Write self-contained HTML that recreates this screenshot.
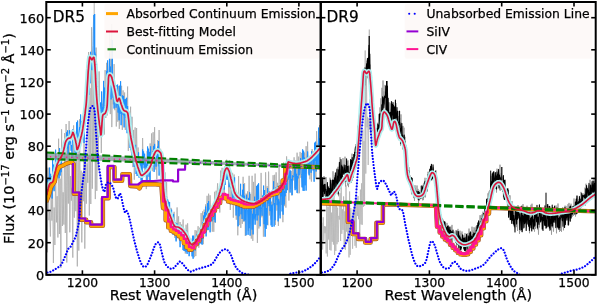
<!DOCTYPE html>
<html><head><meta charset="utf-8"><style>
html,body{margin:0;padding:0;background:#fff;}
svg{display:block;}
text{font-family:"DejaVu Sans","Liberation Sans",sans-serif;fill:#000;font-variant-ligatures:none;stroke:#000;stroke-width:0.25px;}
</style></head><body>
<svg width="598" height="305" viewBox="0 0 598 305">
<rect width="598" height="305" fill="#fff"/>
<defs><clipPath id="cl"><rect x="46.3" y="2.0" width="274.3" height="272.8"/></clipPath><clipPath id="cr"><rect x="320.9" y="2.0" width="274.80000000000007" height="272.8"/></clipPath></defs><g clip-path="url(#cl)"><polyline points="46.6,170.5 47.4,252.3 48.1,167.7 48.9,220.2 49.6,211.9 50.4,236.5 51.1,192.0 51.9,220.6 52.6,189.7 53.4,263.0 54.1,207.5 54.9,245.0 55.6,162.9 56.4,222.4 57.1,196.2 57.9,237.5 58.6,138.7 59.4,234.0 60.1,178.7 60.9,267.8 61.6,129.3 62.4,226.0 63.1,192.3 63.9,224.6 64.6,133.1 65.3,233.0 66.1,124.0 66.8,262.5 67.6,143.4 68.3,203.6 69.1,121.1 69.8,232.3 70.6,176.0 71.3,200.7 72.1,187.7 72.8,257.6 73.6,125.4 74.3,217.7 75.1,155.9 75.8,211.2 76.6,136.5 77.3,266.4 78.1,149.1 78.8,250.6 79.6,119.2 80.3,210.6 81.1,170.7 81.8,242.4 82.6,172.7 83.3,201.2 84.1,119.9 84.8,248.6 85.6,154.2 86.3,203.7 87.1,163.3 87.8,182.9 88.6,52.0 89.3,215.5 90.1,88.1 90.8,204.0 91.6,27.2 92.3,188.7 93.1,58.5 93.8,159.2 94.6,61.5 95.3,199.1 96.1,47.6 96.8,190.9 97.6,99.6 98.3,170.3 99.1,71.4 99.8,122.5 100.6,104.3 101.3,152.9 102.1,103.6 102.8,118.0 103.6,85.9 104.3,134.6 105.1,70.1 105.8,118.0 106.6,62.8 107.3,115.4 108.1,73.4 108.8,101.5 109.6,32.4 110.3,114.1 111.1,39.2 111.8,127.1 112.6,84.0 113.3,104.4 114.1,64.1 114.8,110.2 115.6,91.3 116.3,126.5 117.1,91.0 117.8,121.7 118.6,86.0 119.3,128.9 120.1,87.5 120.8,110.1 121.6,85.8 122.3,129.9 123.1,90.4 123.8,115.7 124.6,92.5 125.3,130.0 126.1,98.4 126.8,121.3 127.6,86.5 128.3,150.9 129.1,123.2 129.8,131.3 130.6,106.7 131.3,152.5 132.1,116.8 132.8,167.1 133.6,129.9 134.3,179.7 135.1,127.4 135.8,168.7 136.6,128.0 137.3,168.0 138.1,147.5 138.8,161.4 139.6,158.2 140.3,172.5 141.1,160.3 141.8,182.9 142.6,138.0 143.3,164.1 144.1,156.0 144.8,174.2 145.6,158.3 146.3,189.1 147.1,151.2 147.8,165.9 148.6,152.1 149.3,180.8 150.1,143.4 150.8,163.9 151.6,133.4 152.3,171.2 153.1,132.2 153.8,166.5 154.6,127.1 155.3,169.5 156.1,149.9 156.8,179.3 157.6,140.1 158.3,166.4 159.1,130.0 159.8,164.1 160.6,148.8 161.3,183.0 162.1,169.1 162.8,186.3 163.6,177.6 164.3,203.9 165.1,172.4 165.8,213.7 166.6,182.1 167.3,214.1 168.1,200.5 168.8,219.6 169.6,208.2 170.3,224.6 171.1,207.9 171.8,229.0 172.6,215.7 173.3,227.1 174.1,211.8 174.8,237.9 175.6,222.1 176.3,239.9 177.1,207.4 177.8,232.6 178.6,216.3 179.3,240.2 180.1,222.0 180.8,233.2 181.6,224.5 182.3,236.5 183.1,219.5 183.8,238.1 184.6,231.5 185.3,253.6 186.1,224.7 186.8,244.1 187.6,223.3 188.3,241.3 189.1,240.4 189.8,248.3 190.6,241.0 191.3,249.6 192.1,238.5 192.8,245.1 193.6,237.0 194.3,257.2 195.1,230.1 195.8,256.1 196.6,230.6 197.3,244.1 198.1,226.2 198.8,247.8 199.6,227.7 200.3,237.5 201.1,213.1 201.8,227.6 202.6,211.4 203.3,244.2 204.1,209.6 204.8,222.0 205.6,204.4 206.3,220.8 207.1,195.8 207.8,230.4 208.6,193.7 209.3,221.8 210.1,195.3 210.8,216.6 211.6,207.0 212.3,231.7 213.1,205.6 213.8,231.8 214.6,191.8 215.3,222.9 216.1,190.7 216.8,199.2 217.6,183.3 218.3,201.1 219.1,192.3 219.8,212.5 220.6,170.6 221.3,194.2 222.1,167.8 222.8,201.1 223.6,173.8 224.3,193.1 225.1,165.9 225.8,177.1 226.6,159.7 227.3,180.0 228.1,163.9 228.8,199.2 229.6,160.3 230.3,210.0 231.1,183.4 231.8,200.8 232.6,172.9 233.3,217.7 234.1,174.5 234.8,200.4 235.6,199.3 236.3,219.7 237.1,198.8 237.8,235.3 238.6,176.1 239.3,225.1 240.1,194.8 240.8,227.9 241.6,194.9 242.3,223.8 243.1,176.8 243.8,221.5 244.6,183.1 245.3,236.0 246.1,193.6 246.8,209.9 247.6,191.3 248.3,231.1 249.1,175.8 249.8,224.2 250.6,193.9 251.3,238.6 252.1,175.8 252.8,240.9 253.6,181.9 254.3,220.3 255.1,173.6 255.8,216.5 256.6,198.8 257.4,242.9 258.1,205.2 258.9,228.5 259.6,203.0 260.4,219.8 261.1,172.9 261.9,217.3 262.6,198.3 263.4,236.7 264.1,193.6 264.9,227.7 265.6,172.3 266.4,213.1 267.1,186.2 267.9,225.3 268.6,171.6 269.4,215.5 270.1,193.7 270.9,219.7 271.6,201.7 272.4,206.1 273.1,175.2 273.9,205.3 274.6,174.8 275.4,224.9 276.1,172.3 276.9,210.6 277.6,182.8 278.4,225.9 279.1,166.6 279.9,215.3 280.6,187.2 281.4,204.8 282.1,179.1 282.9,222.2 283.6,162.5 284.4,206.1 285.1,184.4 285.9,207.6 286.6,156.4 287.4,189.9 288.1,161.7 288.9,200.6 289.6,174.9 290.4,189.2 291.1,171.0 291.9,195.5 292.6,162.6 293.4,180.4 294.1,157.3 294.9,188.3 295.6,160.6 296.4,185.8 297.1,152.7 297.9,193.4 298.6,156.6 299.4,193.2 300.1,151.9 300.9,177.8 301.6,152.9 302.4,187.4 303.1,164.8 303.9,170.7 304.6,152.5 305.4,174.0 306.1,146.2 306.9,166.2 307.6,141.7 308.4,173.6 309.1,159.2 309.9,179.3 310.6,156.5 311.4,181.6 312.1,149.1 312.9,166.5 313.6,151.5 314.4,163.6 315.1,153.0 315.9,178.8 316.6,131.2 317.4,155.2 318.1,143.6 318.9,159.9 319.6,125.0 320.4,174.0" fill="none" stroke="#ababab" stroke-width="0.8" stroke-linejoin="round" /><polyline points="46.6,179.0 47.1,191.4 47.6,178.6 48.1,200.3 48.6,188.9 49.1,182.4 49.6,167.6 50.1,190.0 50.6,173.8 51.1,183.9 51.6,176.3 52.1,198.5 52.6,158.3 53.1,189.5 53.6,164.6 54.1,191.2 54.6,172.0 55.1,171.4 55.6,149.7 56.1,168.9 56.6,158.2 57.1,167.3 57.6,167.9 58.1,174.7 58.6,156.9 59.1,178.3 59.6,148.1 60.1,175.6 60.6,157.9 61.1,172.2 61.6,157.2 62.1,159.9 62.6,150.0 63.1,155.3 63.6,151.8 64.1,155.5 64.6,151.1 65.1,150.7 65.6,145.8 66.1,148.3 66.6,132.3 67.1,148.4 67.6,130.4 68.1,154.2 68.6,139.6 69.1,144.7 69.6,130.3 70.1,143.4 70.6,141.5 71.1,150.7 71.6,145.1 72.1,158.0 72.6,129.4 73.1,141.1 73.6,142.9 74.1,142.3 74.6,143.6 75.1,152.8 75.6,140.5 76.1,157.1 76.6,122.3 77.1,139.0 77.6,120.6 78.1,137.9 78.6,134.5 79.1,133.0 79.6,127.2 80.1,143.8 80.6,114.5 81.1,134.6 81.6,121.1 82.1,134.1 82.6,120.6 83.1,127.4 83.6,129.6 84.1,143.0 84.6,111.5 85.1,123.2 85.6,108.2 86.1,109.3 86.6,80.5 87.1,111.0 87.6,78.1 88.1,93.8 88.6,57.4 89.1,94.9 89.6,61.3 90.1,83.3 90.6,51.8 91.1,69.5 91.6,58.7 92.1,70.2 92.6,59.9 93.1,45.6 93.6,15.1 94.1,63.9 94.6,51.7 95.1,53.4 95.6,54.0 96.1,71.3 96.6,63.7 97.1,94.0 97.6,81.2 98.1,122.7 98.6,103.0 99.1,133.8 99.6,109.8 100.1,136.0 100.6,102.5 101.1,125.5 101.6,91.5 102.1,110.6 102.6,107.2 103.1,118.2 103.6,80.9 104.1,119.7 104.6,87.6 105.1,98.1 105.6,91.1 106.1,100.5 106.6,70.9 107.1,87.1 107.6,60.4 108.1,81.3 108.6,85.4 109.1,92.7 109.6,53.3 110.1,96.7 110.6,66.6 111.1,99.4 111.6,60.1 112.1,89.1 112.6,82.7 113.1,97.8 113.6,82.5 114.1,108.5 114.6,86.5 115.1,85.4 115.6,88.9 116.1,107.7 116.6,85.0 117.1,105.3 117.6,84.6 118.1,112.6 118.6,100.5 119.1,120.3 119.6,85.7 120.1,113.8 120.6,81.2 121.1,125.2 121.6,106.8 122.1,112.5 122.6,95.4 123.1,114.8 123.6,96.1 124.1,127.4 124.6,99.3 125.1,116.1 125.6,99.2 126.1,117.9 126.6,97.8 127.1,133.2 127.6,106.0 128.1,119.6 128.6,115.8 129.1,133.3 129.6,114.4 130.1,148.0 130.6,116.5 131.1,150.3 131.6,142.2 132.1,155.6 132.6,135.6 133.1,147.1 133.6,143.7 134.1,166.9 134.6,150.2 135.1,160.6 135.6,144.9 136.1,174.0 136.6,153.8 137.1,176.0 137.6,160.3 138.1,166.0 138.6,152.4 139.1,177.7 139.6,160.5 140.1,165.1 140.6,162.1 141.1,180.7 141.6,162.7 142.1,179.9 142.6,149.4 143.1,164.8 143.6,151.4 144.1,168.3 144.6,153.7 145.1,167.2 145.6,160.9 146.1,175.6 146.6,163.7 147.1,181.4 147.6,146.5 148.1,165.9 148.6,148.7 149.1,176.8 149.6,151.9 150.1,180.3 150.6,146.4 151.1,166.8 151.6,163.1 152.1,157.3 152.6,151.1 153.1,164.8 153.6,145.9 154.1,171.9 154.6,143.9 155.1,163.6 155.6,151.4 156.1,166.6 156.6,152.6 157.1,158.8 157.6,146.6 158.1,159.7 158.6,141.1 159.1,175.6 159.6,151.2 160.1,160.3 160.6,159.0 161.1,164.6 161.6,167.8 162.1,181.3 162.6,166.0 163.1,185.1 163.6,181.7 164.1,197.2 164.6,184.5 165.1,208.3 165.6,204.2 166.1,211.6 166.6,196.6 167.1,214.9 167.6,199.0 168.1,209.8 168.6,201.7 169.1,212.8 169.6,202.1 170.1,225.3 170.6,212.1 171.1,225.1 171.6,209.6 172.1,221.8 172.6,223.0 173.1,234.7 173.6,213.9 174.1,227.7 174.6,220.0 175.1,233.0 175.6,228.0 176.1,241.4 176.6,223.5 177.1,230.2 177.6,223.8 178.1,230.0 178.6,227.7 179.1,233.7 179.6,228.6 180.1,247.2 180.6,227.8 181.1,234.0 181.6,238.6 182.1,236.3 182.6,239.8 183.1,250.1 183.6,235.6 184.1,251.0 184.6,243.1 185.1,251.1 185.6,238.8 186.1,252.2 186.6,230.7 187.1,253.9 187.6,234.7 188.1,246.8 188.6,244.1 189.1,256.2 189.6,250.0 190.1,246.5 190.6,240.9 191.1,251.5 191.6,246.7 192.1,256.4 192.6,235.7 193.1,258.7 193.6,235.7 194.1,246.6 194.6,240.7 195.1,250.6 195.6,242.3 196.1,245.2 196.6,234.7 197.1,243.4 197.6,234.2 198.1,240.6 198.6,237.5 199.1,244.5 199.6,236.4 200.1,241.1 200.6,231.8 201.1,243.9 201.6,230.1 202.1,244.7 202.6,222.1 203.1,238.6 203.6,215.5 204.1,229.2 204.6,212.0 205.1,228.5 205.6,206.6 206.1,236.4 206.6,212.9 207.1,230.0 207.6,203.2 208.1,230.0 208.6,201.0 209.1,213.2 209.6,208.7 210.1,232.3 210.6,207.7 211.1,219.3 211.6,212.0 212.1,221.3 212.6,214.3 213.1,210.4 213.6,204.3 214.1,219.6 214.6,204.8 215.1,222.2 215.6,200.2 216.1,201.4 216.6,197.5 217.1,205.6 217.6,201.9 218.1,200.9 218.6,192.0 219.1,194.4 219.6,185.5 220.1,194.3 220.6,179.2 221.1,190.4 221.6,182.5 222.1,187.6 222.6,178.7 223.1,178.8 223.6,171.9 224.1,189.6 224.6,170.2 225.1,185.0 225.6,166.2 226.1,179.2 226.6,164.1 227.1,179.9 227.6,172.9 228.1,178.0 228.6,166.7 229.1,187.2 229.6,182.1 230.1,182.9 230.6,183.8 231.1,188.4 231.6,185.4 232.1,191.8 232.6,198.4 233.1,197.9 233.6,188.7 234.1,196.2 234.6,177.4 235.1,202.9 235.6,203.6 236.1,215.5 236.6,205.3 237.1,204.8 237.6,196.3 238.1,226.3 238.6,202.0 239.1,216.2 239.6,204.1 240.1,206.6 240.6,183.8 241.1,214.3 241.6,198.2 242.1,219.0 242.6,189.8 243.1,207.3 243.6,184.1 244.1,221.3 244.6,195.7 245.1,220.0 245.6,209.5 246.1,235.3 246.6,194.8 247.1,209.2 247.6,210.9 248.1,234.8 248.6,197.9 249.1,228.2 249.6,192.3 250.1,235.6 250.6,202.1 251.1,204.6 251.6,210.6 252.1,229.6 252.6,213.8 253.1,234.4 253.6,208.4 254.1,218.6 254.6,196.7 255.1,224.7 255.6,214.2 256.1,215.1 256.6,185.9 257.1,220.5 257.6,184.7 258.1,215.4 258.6,183.3 259.1,209.2 259.6,199.7 260.1,226.3 260.6,202.2 261.1,206.5 261.6,209.3 262.1,215.7 262.6,195.6 263.1,206.7 263.6,185.6 264.1,224.2 264.6,190.0 265.1,236.7 265.6,202.1 266.1,228.9 266.6,208.0 267.1,224.9 267.6,188.1 268.1,203.4 268.6,193.8 269.1,206.2 269.6,191.0 270.1,211.1 270.6,196.7 271.1,225.4 271.6,204.8 272.1,227.0 272.6,205.1 273.1,203.5 273.6,181.3 274.1,226.5 274.6,203.0 275.1,220.2 275.6,187.7 276.1,199.9 276.6,192.0 277.1,205.2 277.6,186.2 278.1,221.4 278.6,198.9 279.1,200.8 279.6,201.3 280.1,218.4 280.6,185.1 281.1,196.4 281.6,180.4 282.1,211.4 282.6,185.6 283.1,214.7 283.6,170.3 284.1,204.5 284.6,191.0 285.1,196.2 285.6,162.9 286.1,193.0 286.6,183.2 287.1,190.2 287.6,163.7 288.1,179.7 288.6,169.8 289.1,177.7 289.6,168.4 290.1,192.6 290.6,170.5 291.1,180.7 291.6,179.2 292.1,195.1 292.6,175.4 293.1,176.9 293.6,176.9 294.1,175.3 294.6,167.5 295.1,190.2 295.6,165.2 296.1,189.4 296.6,173.8 297.1,192.9 297.6,176.2 298.1,178.4 298.6,163.4 299.1,175.2 299.6,163.2 300.1,169.6 300.6,158.2 301.1,173.4 301.6,175.6 302.1,187.3 302.6,149.4 303.1,190.8 303.6,150.7 304.1,190.9 304.6,157.6 305.1,185.3 305.6,159.9 306.1,190.6 306.6,159.5 307.1,165.0 307.6,151.5 308.1,165.5 308.6,159.4 309.1,175.3 309.6,158.4 310.1,161.2 310.6,157.0 311.1,172.8 311.6,151.3 312.1,157.3 312.6,155.8 313.1,170.5 313.6,155.0 314.1,181.7 314.6,142.7 315.1,160.9 315.6,141.7 316.1,171.5 316.6,152.3 317.1,167.2 317.6,150.3 318.1,165.7 318.6,127.6 319.1,167.2 319.6,138.4 320.1,164.2" fill="none" stroke="#1e90ff" stroke-width="1.0" stroke-linejoin="round" /><polyline points="94.2,60.0 94.2,0.0" fill="none" stroke="#b4b4b4" stroke-width="1.0" stroke-linejoin="round" /><polyline points="94.6,60.0 94.6,14.0" fill="none" stroke="#1e90ff" stroke-width="1.4" stroke-linejoin="round" /><polyline points="111.8,80.0 111.8,24.0" fill="none" stroke="#b4b4b4" stroke-width="1.0" stroke-linejoin="round" /><polyline points="112.3,80.0 112.3,40.0" fill="none" stroke="#1e90ff" stroke-width="1.4" stroke-linejoin="round" /><polyline points="46.8,195.0 46.9,194.4 47.1,193.6 47.2,192.6 47.4,191.5 47.7,190.4 47.9,189.4 48.2,188.4 48.5,187.3 48.8,186.2 49.1,185.2 49.5,184.3 49.9,183.5 50.4,183.0 50.9,182.8 51.4,182.6 51.9,182.5 52.5,182.1 52.9,181.5 53.3,180.5 53.6,179.3 53.9,177.9 54.2,176.5 54.5,175.0 54.8,173.6 55.1,172.2 55.5,170.9 55.8,169.5 56.1,168.1 56.5,166.8 56.8,165.7 57.1,164.7 57.4,163.8 57.7,163.1 58.1,162.3 58.4,161.6 58.8,160.8 59.2,160.0 59.7,159.2 60.2,158.4 60.8,157.6 61.3,156.8 61.7,155.9 62.1,155.0 62.4,154.1 62.8,153.2 63.1,152.2 63.4,151.1 63.7,150.0 64.0,148.7 64.4,147.3 64.7,145.7 65.0,144.3 65.3,142.9 65.7,141.8 66.1,140.9 66.5,140.2 66.9,139.7 67.3,139.2 67.7,138.8 68.1,138.5 68.5,138.3 69.0,138.1 69.4,138.1 69.8,138.1 70.2,137.9 70.6,137.7 70.9,137.3 71.2,136.7 71.5,136.1 71.8,135.5 72.0,134.9 72.2,134.4 72.4,133.9 72.5,133.4 72.6,132.9 72.7,132.6 72.8,132.4 73.0,132.5 73.2,132.9 73.5,133.7 73.8,134.6 74.1,135.6 74.4,136.7 74.7,137.7 75.0,138.7 75.3,139.8 75.6,141.0 75.8,142.2 76.1,143.3 76.3,144.3 76.5,145.3 76.6,146.5 76.7,147.5 76.8,148.5 76.9,149.2 77.1,149.5 77.3,149.4 77.6,149.1 77.9,148.4 78.2,147.6 78.5,146.8 78.8,145.9 79.1,145.0 79.3,143.9 79.6,142.8 79.9,141.6 80.1,140.4 80.4,139.3 80.7,138.2 80.9,137.2 81.2,136.2 81.5,135.2 81.7,134.1 82.0,132.8 82.3,131.4 82.6,129.8 82.9,128.2 83.1,126.5 83.4,124.8 83.7,123.0 84.0,121.2 84.3,119.3 84.5,117.4 84.8,115.4 85.1,113.4 85.3,111.5 85.5,109.7 85.7,108.2 85.9,106.6 86.1,104.8 86.3,102.7 86.5,100.0 86.7,96.5 87.0,92.3 87.2,87.8 87.5,83.2 87.8,78.8 88.0,75.0 88.2,71.6 88.5,68.5 88.7,65.5 89.0,62.9 89.2,60.7 89.4,59.0 89.6,57.8 89.7,57.2 89.8,57.0 89.9,57.0 90.0,57.2 90.2,57.3 90.4,57.5 90.7,58.0 91.0,58.6 91.3,59.2 91.6,59.6 91.9,59.8 92.2,59.6 92.5,59.1 92.8,58.5 93.0,57.9 93.3,57.5 93.5,57.3 93.7,57.3 93.9,57.5 94.0,57.7 94.1,58.2 94.3,59.0 94.4,60.0 94.5,61.3 94.7,62.9 94.8,64.7 95.0,66.8 95.1,69.3 95.3,72.0 95.5,75.2 95.6,78.9 95.8,82.9 96.0,87.0 96.3,91.1 96.5,95.0 96.8,98.8 97.1,102.6 97.5,106.4 97.8,110.1 98.2,113.4 98.5,116.4 98.8,119.0 99.1,121.2 99.3,123.1 99.5,124.9 99.8,126.5 100.0,128.0 100.2,129.7 100.4,131.4 100.6,133.1 100.7,134.3 100.9,134.9 101.1,134.5 101.3,132.8 101.5,129.9 101.8,126.3 102.0,122.6 102.3,119.3 102.5,117.0 102.7,115.7 103.0,114.9 103.2,114.6 103.5,114.5 103.7,114.4 104.0,114.2 104.2,113.9 104.5,113.8 104.8,113.6 105.0,113.5 105.2,113.2 105.5,112.7 105.8,112.0 106.0,111.3 106.3,110.4 106.6,109.4 106.8,108.2 107.0,106.8 107.2,105.2 107.3,103.2 107.4,101.2 107.5,99.0 107.6,96.9 107.7,95.0 107.8,93.2 107.9,91.5 108.0,89.9 108.0,88.2 108.1,86.6 108.2,85.0 108.3,83.3 108.4,81.4 108.4,79.6 108.5,77.9 108.7,76.5 108.9,75.5 109.2,74.9 109.6,74.7 110.0,74.8 110.4,75.1 110.8,75.6 111.2,76.2 111.6,77.0 111.9,78.1 112.3,79.4 112.6,80.8 113.0,82.2 113.3,83.6 113.6,85.0 114.0,86.4 114.3,87.9 114.7,89.4 115.0,90.9 115.3,92.4 115.6,94.0 115.9,95.8 116.2,97.6 116.5,99.2 116.8,100.5 117.1,101.3 117.4,101.4 117.8,100.9 118.1,100.0 118.5,99.1 118.9,98.4 119.2,98.3 119.5,98.8 119.9,99.6 120.2,100.7 120.5,101.9 120.8,103.1 121.2,104.2 121.6,105.2 122.0,106.3 122.3,107.4 122.7,108.5 123.2,109.4 123.6,110.1 124.1,110.6 124.6,110.9 125.1,111.0 125.6,111.2 126.1,111.3 126.5,111.6 126.8,111.9 127.1,112.1 127.3,112.4 127.6,112.8 127.8,113.5 128.0,114.6 128.2,116.2 128.5,118.4 128.8,120.7 129.0,123.2 129.2,125.7 129.5,127.8 129.7,129.6 129.9,131.3 130.2,132.9 130.4,134.4 130.7,136.1 131.0,138.0 131.4,140.1 131.9,142.4 132.4,144.8 132.9,147.2 133.4,149.6 133.9,151.8 134.4,153.9 134.9,156.0 135.3,158.0 135.8,160.0 136.3,161.8 136.8,163.6 137.3,165.3 137.8,167.0 138.4,168.6 138.9,170.1 139.4,171.4 139.8,172.5 140.2,173.4 140.5,174.1 140.8,174.6 141.0,175.0 141.3,175.3 141.7,175.4 142.1,175.4 142.6,175.2 143.1,174.8 143.7,174.4 144.2,173.9 144.7,173.5 145.2,173.1 145.7,172.7 146.2,172.2 146.7,171.7 147.2,171.1 147.7,170.5 148.2,169.9 148.7,169.2 149.1,168.5 149.6,167.7 150.1,166.7 150.6,165.6 151.1,164.2 151.6,162.5 152.1,160.6 152.6,158.8 153.1,157.1 153.6,155.7 154.1,154.5 154.6,153.5 155.0,152.6 155.5,151.8 156.0,151.2 156.5,150.8 157.0,150.6 157.5,150.6 158.1,150.7 158.6,151.0 159.1,151.4 159.5,151.8 159.9,152.2 160.2,152.5 160.6,153.0 160.9,153.6 161.1,154.6 161.4,156.0 161.6,158.0 161.8,160.4 162.0,163.1 162.2,166.1 162.3,169.1 162.5,172.0 162.7,174.9 162.8,178.0 162.9,181.2 163.1,184.3 163.3,187.3 163.5,190.0 163.8,192.5 164.1,194.9 164.4,197.2 164.8,199.3 165.1,201.2 165.5,203.0 165.9,204.5 166.3,205.8 166.7,206.9 167.1,207.9 167.6,208.9 168.0,210.0 168.4,211.1 168.8,212.2 169.2,213.2 169.6,214.3 170.0,215.4 170.5,216.7 171.1,218.2 171.7,219.9 172.4,221.6 173.0,223.3 173.7,224.8 174.4,225.9 175.1,226.6 175.7,226.9 176.4,227.0 177.1,227.0 177.7,227.0 178.4,227.2 179.1,227.5 179.7,227.9 180.4,228.3 181.0,228.8 181.7,229.3 182.3,229.9 182.9,230.6 183.6,231.3 184.2,232.2 184.9,233.1 185.5,234.0 186.2,235.1 186.9,236.3 187.6,237.8 188.3,239.3 189.0,240.8 189.6,242.0 190.2,243.0 190.7,243.7 191.1,244.1 191.5,244.4 191.9,244.5 192.3,244.5 192.8,244.3 193.4,244.0 194.0,243.6 194.6,243.1 195.2,242.4 196.0,241.5 196.7,240.4 197.5,239.0 198.4,237.4 199.3,235.6 200.2,233.6 201.1,231.7 202.0,229.9 202.9,228.2 203.7,226.4 204.6,224.7 205.5,222.9 206.3,221.2 207.2,219.4 208.1,217.7 209.0,215.9 209.8,214.2 210.7,212.4 211.6,210.7 212.5,208.9 213.4,207.1 214.3,205.4 215.2,203.6 216.1,201.9 216.9,200.1 217.7,198.4 218.4,196.6 219.0,194.8 219.5,193.0 220.1,191.3 220.5,189.6 221.0,188.0 221.4,186.5 221.8,185.2 222.1,183.8 222.4,182.6 222.7,181.3 223.0,180.0 223.3,178.6 223.5,177.2 223.7,175.8 224.0,174.4 224.2,173.1 224.5,172.0 224.8,171.0 225.2,170.1 225.6,169.3 226.0,168.7 226.4,168.2 226.8,168.0 227.2,168.1 227.6,168.4 228.0,169.0 228.3,169.6 228.7,170.3 229.0,171.0 229.2,171.6 229.4,172.2 229.6,172.9 229.7,173.6 229.9,174.6 230.2,175.7 230.6,177.1 231.0,178.9 231.5,180.8 232.0,182.7 232.4,184.5 232.9,186.2 233.3,187.7 233.7,189.1 234.0,190.5 234.4,191.8 234.9,193.0 235.5,194.1 236.2,195.2 237.0,196.2 237.9,197.1 238.9,197.9 239.8,198.7 240.7,199.4 241.6,200.0 242.5,200.5 243.3,201.0 244.2,201.3 245.1,201.7 246.0,202.0 246.9,202.3 247.7,202.6 248.6,202.8 249.5,203.0 250.3,203.2 251.2,203.3 252.1,203.4 253.0,203.5 253.8,203.5 254.7,203.5 255.6,203.5 256.5,203.3 257.4,203.0 258.2,202.7 259.1,202.3 260.0,201.8 260.8,201.2 261.7,200.7 262.6,200.1 263.5,199.5 264.4,198.8 265.2,198.1 266.1,197.4 267.0,196.7 267.9,196.0 268.7,195.3 269.6,194.7 270.5,194.0 271.3,193.4 272.2,192.8 273.1,192.3 274.0,191.9 274.9,191.5 275.8,191.1 276.7,190.7 277.5,190.2 278.2,189.6 278.9,189.0 279.6,188.4 280.2,187.7 280.8,187.0 281.4,186.2 281.9,185.5 282.4,184.8 282.8,184.0 283.3,183.2 283.7,182.2 284.1,181.0 284.6,179.5 285.0,177.8 285.5,175.9 285.9,174.0 286.3,172.2 286.7,170.5 287.0,168.9 287.2,167.4 287.4,165.9 287.6,164.6 287.8,163.4 288.0,162.6 288.2,162.1 288.4,161.9 288.6,161.9 288.8,162.0 289.0,162.2 289.3,162.3 289.7,162.4 290.0,162.5 290.5,162.6 291.0,162.7 291.5,162.9 292.0,163.0 292.6,163.1 293.2,163.2 293.9,163.3 294.6,163.4 295.3,163.5 296.0,163.5 296.7,163.5 297.4,163.5 298.1,163.4 298.7,163.4 299.4,163.3 300.0,163.2 300.6,163.1 301.1,163.0 301.6,162.8 302.0,162.6 302.5,162.5 303.0,162.3 303.5,162.1 304.1,162.0 304.6,161.8 305.2,161.6 305.7,161.4 306.2,161.2 306.7,161.0 307.2,160.7 307.6,160.4 308.1,160.1 308.6,159.8 309.0,159.5 309.4,159.2 309.8,158.9 310.2,158.5 310.6,158.2 311.0,157.8 311.5,157.3 312.1,156.8 312.7,156.2 313.4,155.5 314.0,154.8 314.7,154.1 315.4,153.4 316.1,152.6 316.8,151.8 317.6,151.0 318.3,150.1 318.9,149.4 319.4,148.8 319.8,148.4 320.1,148.0 320.2,147.8 320.4,147.6 320.5,147.4 320.6,147.3" fill="none" stroke="#aeeeee" stroke-width="5.2" stroke-linejoin="round" /><polyline points="46.3,202.0 47.5,199.0 48.9,195.3 50.9,187.4 52.9,184.4 54.8,181.5 55.8,175.6 57.8,169.7 59.7,166.7 62.7,165.7 65.7,163.8 68.6,162.8 71.6,161.8 73.8,164.2 73.8,193.7 80.0,193.7 80.0,219.7 86.2,219.7 86.2,222.2 91.1,222.2 91.1,225.8 102.9,225.8 102.9,198.2 108.6,198.2 108.6,167.1 114.5,167.1 114.5,180.8 122.1,180.8 122.4,174.2 129.8,174.2 130.2,186.0 137.5,186.5 139.5,188.5 141.5,184.5 145.7,184.3 155.5,184.3 161.2,184.8 161.5,187.2 162.6,203.0 163.0,208.2 165.6,208.2 165.6,220.2 168.2,220.2 168.2,227.4 170.8,227.4 170.8,230.8 173.4,230.8 173.4,232.2 176.0,232.2 176.0,233.9 178.6,233.9 178.6,236.2 181.2,236.2 181.2,239.1 183.8,239.1 183.8,243.3 186.4,243.3 186.4,247.4 189.0,247.4 189.0,249.7 191.6,249.7 191.6,247.8 194.2,247.8 194.2,244.2 196.8,244.2 196.8,240.8 199.4,240.8 199.4,236.4 202.0,236.4 202.0,231.0 204.6,231.0 204.6,224.9 207.2,224.9 207.2,219.8 209.8,219.8 209.8,215.1 212.4,215.1 212.4,210.8 215.0,210.8 215.0,206.9 217.6,206.9 217.6,203.0 220.2,203.0 220.2,197.9 222.8,197.9 222.8,196.5 225.4,196.5 225.4,198.6 228.0,198.6 228.0,201.5 230.6,201.5 230.6,202.2 233.2,202.2 233.2,202.8 235.8,202.8 235.8,203.5 238.4,203.5 238.4,204.2 241.0,204.2 241.0,205.5 243.6,205.5 243.6,206.6 246.2,206.6 246.2,206.6 248.8,206.6 248.8,206.6 251.4,206.6 251.4,206.5 254.0,206.5 254.0,205.2 256.6,205.2 256.6,203.8 259.2,203.8 259.2,202.1 261.8,202.1 261.8,200.3 264.4,200.3 264.4,198.6 267.0,198.6 267.0,196.6 269.6,196.6 269.6,194.8 272.2,194.8 272.2,194.1 274.8,194.1 274.8,193.4 277.4,193.4 277.4,190.8 280.0,190.8 280.0,187.5 282.6,187.5 282.6,180.4 285.2,180.4 285.2,166.0 287.0,166.0 320.6,167.3" fill="none" stroke="#a0522d" stroke-width="4.4" stroke-linejoin="round" /><polyline points="46.3,202.0 47.5,199.0 48.9,195.3 50.9,187.4 52.9,184.4 54.8,181.5 55.8,175.6 57.8,169.7 59.7,166.7 62.7,165.7 65.7,163.8 68.6,162.8 71.6,161.8 73.8,164.2 73.8,193.7 80.0,193.7 80.0,219.7 86.2,219.7 86.2,222.2 91.1,222.2 91.1,225.8 102.9,225.8 102.9,198.2 108.6,198.2 108.6,167.1 114.5,167.1 114.5,180.8 122.1,180.8 122.4,174.2 129.8,174.2 130.2,186.0 137.5,186.5 139.5,188.5 141.5,184.5 145.7,184.3 155.5,184.3 161.2,184.8 161.5,187.2 162.6,203.0 163.0,208.2 165.6,208.2 165.6,220.2 168.2,220.2 168.2,227.4 170.8,227.4 170.8,230.8 173.4,230.8 173.4,232.2 176.0,232.2 176.0,233.9 178.6,233.9 178.6,236.2 181.2,236.2 181.2,239.1 183.8,239.1 183.8,243.3 186.4,243.3 186.4,247.4 189.0,247.4 189.0,249.7 191.6,249.7 191.6,247.8 194.2,247.8 194.2,244.2 196.8,244.2 196.8,240.8 199.4,240.8 199.4,236.4 202.0,236.4 202.0,231.0 204.6,231.0 204.6,224.9 207.2,224.9 207.2,219.8 209.8,219.8 209.8,215.1 212.4,215.1 212.4,210.8 215.0,210.8 215.0,206.9 217.6,206.9 217.6,203.0 220.2,203.0 220.2,197.9 222.8,197.9 222.8,196.5 225.4,196.5 225.4,198.6 228.0,198.6 228.0,201.5 230.6,201.5 230.6,202.2 233.2,202.2 233.2,202.8 235.8,202.8 235.8,203.5 238.4,203.5 238.4,204.2 241.0,204.2 241.0,205.5 243.6,205.5 243.6,206.6 246.2,206.6 246.2,206.6 248.8,206.6 248.8,206.6 251.4,206.6 251.4,206.5 254.0,206.5 254.0,205.2 256.6,205.2 256.6,203.8 259.2,203.8 259.2,202.1 261.8,202.1 261.8,200.3 264.4,200.3 264.4,198.6 267.0,198.6 267.0,196.6 269.6,196.6 269.6,194.8 272.2,194.8 272.2,194.1 274.8,194.1 274.8,193.4 277.4,193.4 277.4,190.8 280.0,190.8 280.0,187.5 282.6,187.5 282.6,180.4 285.2,180.4 285.2,166.0 287.0,166.0 320.6,167.3" fill="none" stroke="#ffa500" stroke-width="3.2" stroke-linejoin="round" /><polyline points="73.0,163.0 73.0,192.5 79.2,192.5 79.2,218.5 85.4,218.5 85.4,221.0 90.3,221.0 90.3,224.6 102.1,224.6 102.1,197.0 107.8,197.0 107.8,165.9 113.7,165.9 113.7,179.6 121.3,179.6 121.6,175.7 129.0,175.7 129.5,184.5 138.0,184.5 142.7,181.0 153.6,181.0 162.4,180.4 172.9,180.4 173.0,181.5 178.1,181.5 178.1,169.7 185.0,169.7 185.3,162.3" fill="none" stroke="#9400d3" stroke-width="2.2" stroke-linejoin="round" /><polygon points="46.3,152.5 320.6,166.4 320.6,168.2 46.3,159" fill="#7f9696" fill-opacity="0.75"/><line x1="46.3" y1="152.5" x2="320.6" y2="166.4" stroke="#008000" stroke-width="2.1" stroke-dasharray="8 3.2"/><line x1="46.3" y1="159" x2="320.6" y2="168.2" stroke="#008000" stroke-width="2.1" stroke-dasharray="8 3.2"/><line x1="46.3" y1="156.5" x2="162" y2="161.0" stroke="#ff1493" stroke-width="1.5" stroke-linecap="round" stroke-dasharray="0.01 5.3" stroke-dashoffset="1"/><line x1="185.3" y1="162.3" x2="320.6" y2="167.3" stroke="#9400d3" stroke-width="1.5" stroke-linecap="round" stroke-dasharray="0.01 5.3" stroke-dashoffset="1"/><polyline points="162.8,161.6 163.0,201.6 165.6,201.6 165.6,210.2 168.2,210.2 168.2,221.6 170.8,221.6 170.8,227.1 173.4,227.1 173.4,229.4 176.0,229.4 176.0,230.9 178.6,230.9 178.6,232.7 181.2,232.7 181.2,235.3 183.8,235.3 183.8,238.9 186.4,238.9 186.4,243.1 189.0,243.1 189.0,246.9 191.6,246.9 191.6,248.1 194.2,248.1 194.2,244.2 196.8,244.2 196.8,240.8 199.4,240.8 199.4,236.9 202.0,236.9 202.0,232.5 204.6,232.5 204.6,226.4 207.2,226.4 207.2,220.7 209.8,220.7 209.8,215.6 212.4,215.6 212.4,211.2 215.0,211.2 215.0,207.1 217.6,207.1 217.6,203.2 220.2,203.2 220.2,198.9 222.8,198.9 222.8,194.0 225.4,194.0 225.4,194.9 228.0,194.9 228.0,198.2 230.6,198.2 230.6,199.8 233.2,199.8 233.2,200.5 235.8,200.5 235.8,201.1 238.4,201.1 238.4,201.7 241.0,201.7 241.0,202.8 243.6,202.8 243.6,204.1 246.2,204.1 246.2,204.6 248.8,204.6 248.8,204.6 251.4,204.6 251.4,204.6 254.0,204.6 254.0,203.9 256.6,203.9 256.6,202.6 259.2,202.6 259.2,201.1 261.8,201.1 261.8,199.3 264.4,199.3 264.4,197.6 267.0,197.6 267.0,195.7 269.6,195.7 269.6,193.8 272.2,193.8 272.2,192.5 274.8,192.5 274.8,191.8 277.4,191.8 277.4,190.3 280.0,190.3 280.0,187.7 282.6,187.7 282.6,183.9 285.2,183.9 285.2,173.9 287.0,173.9 288.0,164.0" fill="none" stroke="#ff1493" stroke-width="2.4" stroke-linejoin="round" /><polyline points="46.8,195.0 46.9,194.4 47.1,193.6 47.2,192.6 47.4,191.5 47.7,190.4 47.9,189.4 48.2,188.4 48.5,187.3 48.8,186.2 49.1,185.2 49.5,184.3 49.9,183.5 50.4,183.0 50.9,182.8 51.4,182.6 51.9,182.5 52.5,182.1 52.9,181.5 53.3,180.5 53.6,179.3 53.9,177.9 54.2,176.5 54.5,175.0 54.8,173.6 55.1,172.2 55.5,170.9 55.8,169.5 56.1,168.1 56.5,166.8 56.8,165.7 57.1,164.7 57.4,163.8 57.7,163.1 58.1,162.3 58.4,161.6 58.8,160.8 59.2,160.0 59.7,159.2 60.2,158.4 60.8,157.6 61.3,156.8 61.7,155.9 62.1,155.0 62.4,154.1 62.8,153.2 63.1,152.2 63.4,151.1 63.7,150.0 64.0,148.7 64.4,147.3 64.7,145.7 65.0,144.3 65.3,142.9 65.7,141.8 66.1,140.9 66.5,140.2 66.9,139.7 67.3,139.2 67.7,138.8 68.1,138.5 68.5,138.3 69.0,138.1 69.4,138.1 69.8,138.1 70.2,137.9 70.6,137.7 70.9,137.3 71.2,136.7 71.5,136.1 71.8,135.5 72.0,134.9 72.2,134.4 72.4,133.9 72.5,133.4 72.6,132.9 72.7,132.6 72.8,132.4 73.0,132.5 73.2,132.9 73.5,133.7 73.8,134.6 74.1,135.6 74.4,136.7 74.7,137.7 75.0,138.7 75.3,139.8 75.6,141.0 75.8,142.2 76.1,143.3 76.3,144.3 76.5,145.3 76.6,146.5 76.7,147.5 76.8,148.5 76.9,149.2 77.1,149.5 77.3,149.4 77.6,149.1 77.9,148.4 78.2,147.6 78.5,146.8 78.8,145.9 79.1,145.0 79.3,143.9 79.6,142.8 79.9,141.6 80.1,140.4 80.4,139.3 80.7,138.2 80.9,137.2 81.2,136.2 81.5,135.2 81.7,134.1 82.0,132.8 82.3,131.4 82.6,129.8 82.9,128.2 83.1,126.5 83.4,124.8 83.7,123.0 84.0,121.2 84.3,119.3 84.5,117.4 84.8,115.4 85.1,113.4 85.3,111.5 85.5,109.7 85.7,108.2 85.9,106.6 86.1,104.8 86.3,102.7 86.5,100.0 86.7,96.5 87.0,92.3 87.2,87.8 87.5,83.2 87.8,78.8 88.0,75.0 88.2,71.6 88.5,68.5 88.7,65.5 89.0,62.9 89.2,60.7 89.4,59.0 89.6,57.8 89.7,57.2 89.8,57.0 89.9,57.0 90.0,57.2 90.2,57.3 90.4,57.5 90.7,58.0 91.0,58.6 91.3,59.2 91.6,59.6 91.9,59.8 92.2,59.6 92.5,59.1 92.8,58.5 93.0,57.9 93.3,57.5 93.5,57.3 93.7,57.3 93.9,57.5 94.0,57.7 94.1,58.2 94.3,59.0 94.4,60.0 94.5,61.3 94.7,62.9 94.8,64.7 95.0,66.8 95.1,69.3 95.3,72.0 95.5,75.2 95.6,78.9 95.8,82.9 96.0,87.0 96.3,91.1 96.5,95.0 96.8,98.8 97.1,102.6 97.5,106.4 97.8,110.1 98.2,113.4 98.5,116.4 98.8,119.0 99.1,121.2 99.3,123.1 99.5,124.9 99.8,126.5 100.0,128.0 100.2,129.7 100.4,131.4 100.6,133.1 100.7,134.3 100.9,134.9 101.1,134.5 101.3,132.8 101.5,129.9 101.8,126.3 102.0,122.6 102.3,119.3 102.5,117.0 102.7,115.7 103.0,114.9 103.2,114.6 103.5,114.5 103.7,114.4 104.0,114.2 104.2,113.9 104.5,113.8 104.8,113.6 105.0,113.5 105.2,113.2 105.5,112.7 105.8,112.0 106.0,111.3 106.3,110.4 106.6,109.4 106.8,108.2 107.0,106.8 107.2,105.2 107.3,103.2 107.4,101.2 107.5,99.0 107.6,96.9 107.7,95.0 107.8,93.2 107.9,91.5 108.0,89.9 108.0,88.2 108.1,86.6 108.2,85.0 108.3,83.3 108.4,81.4 108.4,79.6 108.5,77.9 108.7,76.5 108.9,75.5 109.2,74.9 109.6,74.7 110.0,74.8 110.4,75.1 110.8,75.6 111.2,76.2 111.6,77.0 111.9,78.1 112.3,79.4 112.6,80.8 113.0,82.2 113.3,83.6 113.6,85.0 114.0,86.4 114.3,87.9 114.7,89.4 115.0,90.9 115.3,92.4 115.6,94.0 115.9,95.8 116.2,97.6 116.5,99.2 116.8,100.5 117.1,101.3 117.4,101.4 117.8,100.9 118.1,100.0 118.5,99.1 118.9,98.4 119.2,98.3 119.5,98.8 119.9,99.6 120.2,100.7 120.5,101.9 120.8,103.1 121.2,104.2 121.6,105.2 122.0,106.3 122.3,107.4 122.7,108.5 123.2,109.4 123.6,110.1 124.1,110.6 124.6,110.9 125.1,111.0 125.6,111.2 126.1,111.3 126.5,111.6 126.8,111.9 127.1,112.1 127.3,112.4 127.6,112.8 127.8,113.5 128.0,114.6 128.2,116.2 128.5,118.4 128.8,120.7 129.0,123.2 129.2,125.7 129.5,127.8 129.7,129.6 129.9,131.3 130.2,132.9 130.4,134.4 130.7,136.1 131.0,138.0 131.4,140.1 131.9,142.4 132.4,144.8 132.9,147.2 133.4,149.6 133.9,151.8 134.4,153.9 134.9,156.0 135.3,158.0 135.8,160.0 136.3,161.8 136.8,163.6 137.3,165.3 137.8,167.0 138.4,168.6 138.9,170.1 139.4,171.4 139.8,172.5 140.2,173.4 140.5,174.1 140.8,174.6 141.0,175.0 141.3,175.3 141.7,175.4 142.1,175.4 142.6,175.2 143.1,174.8 143.7,174.4 144.2,173.9 144.7,173.5 145.2,173.1 145.7,172.7 146.2,172.2 146.7,171.7 147.2,171.1 147.7,170.5 148.2,169.9 148.7,169.2 149.1,168.5 149.6,167.7 150.1,166.7 150.6,165.6 151.1,164.2 151.6,162.5 152.1,160.6 152.6,158.8 153.1,157.1 153.6,155.7 154.1,154.5 154.6,153.5 155.0,152.6 155.5,151.8 156.0,151.2 156.5,150.8 157.0,150.6 157.5,150.6 158.1,150.7 158.6,151.0 159.1,151.4 159.5,151.8 159.9,152.2 160.2,152.5 160.6,153.0 160.9,153.6 161.1,154.6 161.4,156.0 161.6,158.0 161.8,160.4 162.0,163.1 162.2,166.1 162.3,169.1 162.5,172.0 162.7,174.9 162.8,178.0 162.9,181.2 163.1,184.3 163.3,187.3 163.5,190.0 163.8,192.5 164.1,194.9 164.4,197.2 164.8,199.3 165.1,201.2 165.5,203.0 165.9,204.5 166.3,205.8 166.7,206.9 167.1,207.9 167.6,208.9 168.0,210.0 168.4,211.1 168.8,212.2 169.2,213.2 169.6,214.3 170.0,215.4 170.5,216.7 171.1,218.2 171.7,219.9 172.4,221.6 173.0,223.3 173.7,224.8 174.4,225.9 175.1,226.6 175.7,226.9 176.4,227.0 177.1,227.0 177.7,227.0 178.4,227.2 179.1,227.5 179.7,227.9 180.4,228.3 181.0,228.8 181.7,229.3 182.3,229.9 182.9,230.6 183.6,231.3 184.2,232.2 184.9,233.1 185.5,234.0 186.2,235.1 186.9,236.3 187.6,237.8 188.3,239.3 189.0,240.8 189.6,242.0 190.2,243.0 190.7,243.7 191.1,244.1 191.5,244.4 191.9,244.5 192.3,244.5 192.8,244.3 193.4,244.0 194.0,243.6 194.6,243.1 195.2,242.4 196.0,241.5 196.7,240.4 197.5,239.0 198.4,237.4 199.3,235.6 200.2,233.6 201.1,231.7 202.0,229.9 202.9,228.2 203.7,226.4 204.6,224.7 205.5,222.9 206.3,221.2 207.2,219.4 208.1,217.7 209.0,215.9 209.8,214.2 210.7,212.4 211.6,210.7 212.5,208.9 213.4,207.1 214.3,205.4 215.2,203.6 216.1,201.9 216.9,200.1 217.7,198.4 218.4,196.6 219.0,194.8 219.5,193.0 220.1,191.3 220.5,189.6 221.0,188.0 221.4,186.5 221.8,185.2 222.1,183.8 222.4,182.6 222.7,181.3 223.0,180.0 223.3,178.6 223.5,177.2 223.7,175.8 224.0,174.4 224.2,173.1 224.5,172.0 224.8,171.0 225.2,170.1 225.6,169.3 226.0,168.7 226.4,168.2 226.8,168.0 227.2,168.1 227.6,168.4 228.0,169.0 228.3,169.6 228.7,170.3 229.0,171.0 229.2,171.6 229.4,172.2 229.6,172.9 229.7,173.6 229.9,174.6 230.2,175.7 230.6,177.1 231.0,178.9 231.5,180.8 232.0,182.7 232.4,184.5 232.9,186.2 233.3,187.7 233.7,189.1 234.0,190.5 234.4,191.8 234.9,193.0 235.5,194.1 236.2,195.2 237.0,196.2 237.9,197.1 238.9,197.9 239.8,198.7 240.7,199.4 241.6,200.0 242.5,200.5 243.3,201.0 244.2,201.3 245.1,201.7 246.0,202.0 246.9,202.3 247.7,202.6 248.6,202.8 249.5,203.0 250.3,203.2 251.2,203.3 252.1,203.4 253.0,203.5 253.8,203.5 254.7,203.5 255.6,203.5 256.5,203.3 257.4,203.0 258.2,202.7 259.1,202.3 260.0,201.8 260.8,201.2 261.7,200.7 262.6,200.1 263.5,199.5 264.4,198.8 265.2,198.1 266.1,197.4 267.0,196.7 267.9,196.0 268.7,195.3 269.6,194.7 270.5,194.0 271.3,193.4 272.2,192.8 273.1,192.3 274.0,191.9 274.9,191.5 275.8,191.1 276.7,190.7 277.5,190.2 278.2,189.6 278.9,189.0 279.6,188.4 280.2,187.7 280.8,187.0 281.4,186.2 281.9,185.5 282.4,184.8 282.8,184.0 283.3,183.2 283.7,182.2 284.1,181.0 284.6,179.5 285.0,177.8 285.5,175.9 285.9,174.0 286.3,172.2 286.7,170.5 287.0,168.9 287.2,167.4 287.4,165.9 287.6,164.6 287.8,163.4 288.0,162.6 288.2,162.1 288.4,161.9 288.6,161.9 288.8,162.0 289.0,162.2 289.3,162.3 289.7,162.4 290.0,162.5 290.5,162.6 291.0,162.7 291.5,162.9 292.0,163.0 292.6,163.1 293.2,163.2 293.9,163.3 294.6,163.4 295.3,163.5 296.0,163.5 296.7,163.5 297.4,163.5 298.1,163.4 298.7,163.4 299.4,163.3 300.0,163.2 300.6,163.1 301.1,163.0 301.6,162.8 302.0,162.6 302.5,162.5 303.0,162.3 303.5,162.1 304.1,162.0 304.6,161.8 305.2,161.6 305.7,161.4 306.2,161.2 306.7,161.0 307.2,160.7 307.6,160.4 308.1,160.1 308.6,159.8 309.0,159.5 309.4,159.2 309.8,158.9 310.2,158.5 310.6,158.2 311.0,157.8 311.5,157.3 312.1,156.8 312.7,156.2 313.4,155.5 314.0,154.8 314.7,154.1 315.4,153.4 316.1,152.6 316.8,151.8 317.6,151.0 318.3,150.1 318.9,149.4 319.4,148.8 319.8,148.4 320.1,148.0 320.2,147.8 320.4,147.6 320.5,147.4 320.6,147.3" fill="none" stroke="#dc143c" stroke-width="1.7" stroke-linejoin="round" /><polyline points="47.5,272.5 47.8,272.5 48.1,272.4 48.6,272.3 49.0,272.3 49.5,272.1 50.0,272.0 50.5,271.8 50.9,271.6 51.4,271.4 51.9,271.1 52.4,270.8 53.0,270.5 53.6,270.1 54.3,269.8 54.9,269.3 55.6,268.9 56.3,268.4 57.0,268.0 57.7,267.6 58.3,267.2 59.0,266.8 59.6,266.4 60.2,265.9 60.8,265.2 61.4,264.4 61.9,263.5 62.4,262.5 62.9,261.5 63.4,260.3 64.0,259.0 64.6,257.5 65.4,255.7 66.1,253.9 66.8,252.1 67.5,250.5 68.1,249.2 68.6,248.4 69.1,247.9 69.5,247.6 69.8,247.4 70.2,247.2 70.6,246.7 71.0,246.0 71.4,245.3 71.8,244.5 72.2,243.7 72.6,242.8 73.0,242.0 73.4,241.2 73.8,240.4 74.3,239.7 74.7,238.8 75.1,237.9 75.5,236.9 75.9,235.8 76.2,234.5 76.5,233.2 76.9,231.8 77.2,230.4 77.5,229.0 77.8,227.6 78.1,226.2 78.4,224.8 78.7,223.3 78.9,221.6 79.2,219.7 79.4,217.4 79.7,214.7 79.9,211.8 80.0,209.0 80.2,206.3 80.4,204.0 80.5,202.2 80.7,200.7 80.8,199.4 80.9,198.1 81.0,196.7 81.2,195.0 81.4,192.9 81.7,190.6 82.0,188.2 82.3,185.7 82.6,183.2 82.9,181.0 83.2,179.0 83.5,177.0 83.8,175.1 84.0,173.3 84.3,171.5 84.5,169.6 84.7,167.7 84.8,165.7 84.9,163.8 85.1,161.9 85.2,159.9 85.3,158.0 85.4,156.1 85.6,154.2 85.7,152.3 85.9,150.4 86.1,148.5 86.2,146.6 86.3,144.7 86.5,142.7 86.6,140.7 86.7,138.8 86.9,136.9 87.0,135.0 87.1,133.2 87.2,131.5 87.3,129.8 87.5,128.1 87.6,126.4 87.8,124.6 88.0,122.7 88.3,120.6 88.6,118.5 88.9,116.4 89.2,114.6 89.4,113.0 89.6,111.8 89.8,110.7 89.9,109.9 90.1,109.2 90.3,108.6 90.5,108.0 90.8,107.4 91.2,106.9 91.6,106.5 92.0,106.1 92.3,106.0 92.7,106.0 93.0,106.2 93.3,106.6 93.6,107.2 93.9,107.9 94.2,108.7 94.4,109.8 94.6,111.1 94.7,112.5 94.9,114.2 95.0,115.9 95.1,117.8 95.2,119.7 95.3,121.7 95.5,124.0 95.6,126.3 95.7,128.6 95.9,130.8 96.0,132.8 96.1,134.6 96.3,136.2 96.4,137.7 96.5,139.2 96.7,140.8 96.8,142.6 96.9,144.8 97.1,147.2 97.2,149.8 97.3,152.3 97.5,154.6 97.6,156.5 97.7,158.0 97.9,159.0 98.0,159.9 98.1,160.7 98.3,161.7 98.5,163.0 98.7,164.6 99.0,166.5 99.3,168.5 99.5,170.6 99.8,172.6 100.1,174.5 100.4,176.3 100.6,178.0 100.9,179.7 101.2,181.4 101.4,182.9 101.7,184.3 102.0,185.6 102.3,186.8 102.6,188.0 102.9,189.0 103.2,189.8 103.4,190.5 103.6,191.1 103.8,191.5 104.0,191.8 104.1,191.9 104.3,191.8 104.5,191.5 104.7,190.8 104.9,189.7 105.1,188.5 105.3,187.2 105.5,186.0 105.8,185.0 106.1,184.3 106.5,183.7 107.0,183.1 107.4,182.7 107.9,182.5 108.3,182.3 108.7,182.3 109.1,182.4 109.6,182.7 110.0,183.0 110.4,183.4 110.8,183.9 111.2,184.4 111.6,185.0 112.0,185.6 112.5,186.4 112.8,187.1 113.2,188.0 113.5,189.0 113.8,190.1 114.1,191.3 114.4,192.5 114.6,193.6 114.9,194.6 115.2,195.5 115.4,196.3 115.7,197.1 116.0,197.8 116.2,198.3 116.5,198.7 116.8,198.9 117.0,198.9 117.3,198.8 117.6,198.6 117.8,198.3 118.1,197.9 118.4,197.3 118.7,196.4 118.9,195.4 119.2,194.5 119.5,193.8 119.8,193.5 120.1,193.6 120.4,194.0 120.6,194.6 120.9,195.4 121.2,196.2 121.4,197.0 121.6,197.8 121.8,198.7 122.0,199.7 122.1,200.7 122.4,201.8 122.6,203.0 122.9,204.4 123.3,206.1 123.6,207.9 124.0,209.5 124.4,210.9 124.7,211.8 125.0,212.1 125.2,211.9 125.5,211.4 125.7,210.9 126.0,210.5 126.3,210.5 126.6,210.9 127.0,211.4 127.3,212.1 127.7,212.9 128.1,213.9 128.5,215.0 128.9,216.2 129.2,217.5 129.6,219.0 130.0,220.6 130.4,222.5 130.9,224.6 131.4,227.0 132.0,229.8 132.6,232.7 133.2,235.8 133.9,238.8 134.6,241.8 135.4,244.8 136.2,247.9 137.0,251.0 137.9,254.0 138.7,256.7 139.5,259.0 140.2,260.9 140.8,262.5 141.4,263.8 142.0,264.9 142.6,265.8 143.2,266.4 143.8,266.8 144.4,267.0 145.0,267.0 145.6,266.7 146.2,266.1 146.9,265.2 147.7,263.9 148.5,262.2 149.3,260.1 150.2,258.0 151.0,255.9 151.8,254.0 152.5,252.2 153.1,250.3 153.7,248.5 154.3,246.9 154.9,245.4 155.5,244.3 156.1,243.5 156.8,242.9 157.4,242.5 158.1,242.4 158.7,242.5 159.2,243.0 159.7,243.8 160.0,245.0 160.4,246.5 160.8,248.2 161.1,249.9 161.6,251.7 162.1,253.6 162.6,255.8 163.2,258.1 163.8,260.3 164.5,262.3 165.3,264.0 166.2,265.3 167.2,266.5 168.3,267.4 169.4,268.2 170.5,268.7 171.5,268.9 172.4,268.8 173.3,268.3 174.1,267.6 174.9,266.8 175.7,265.9 176.4,265.2 177.1,264.5 177.7,263.7 178.3,262.9 178.9,262.2 179.5,261.7 180.1,261.5 180.7,261.7 181.2,262.1 181.8,262.7 182.4,263.5 183.1,264.4 183.8,265.2 184.7,266.2 185.6,267.4 186.6,268.6 187.7,269.8 188.8,270.8 189.8,271.4 190.8,271.6 191.9,271.4 192.9,270.9 193.9,270.4 195.0,269.9 196.0,269.5 197.0,269.2 197.9,269.0 198.8,268.7 199.7,268.4 200.8,268.1 202.0,267.7 203.5,267.3 205.1,266.9 206.9,266.4 208.7,265.8 210.4,265.1 212.0,264.0 213.4,262.5 214.7,260.6 215.9,258.5 217.1,256.4 218.3,254.5 219.4,253.0 220.5,251.9 221.6,250.9 222.6,250.1 223.6,249.6 224.6,249.3 225.5,249.2 226.4,249.4 227.2,249.9 228.0,250.6 228.8,251.5 229.6,252.7 230.4,254.0 231.2,255.7 232.0,257.8 232.8,260.1 233.6,262.4 234.5,264.6 235.4,266.4 236.4,267.8 237.4,269.1 238.4,270.2 239.5,271.1 240.5,271.9 241.5,272.6 242.4,273.1 243.3,273.5 244.2,273.7 245.1,273.9 246.0,274.0 247.0,274.2 247.8,274.4 248.3,274.7 248.9,274.9 249.8,275.2 251.3,275.4 253.8,275.5 257.8,275.6 263.0,275.7 269.0,275.7 274.9,275.7 280.1,275.6 284.0,275.5 286.4,275.3 287.8,275.0 288.5,274.7 288.9,274.4 289.3,274.1 290.0,273.8 290.9,273.6 291.8,273.4 292.7,273.2 293.6,273.0 294.6,272.8 295.6,272.6 296.7,272.5 297.8,272.4 299.0,272.3 300.3,272.2 301.6,271.9 303.0,271.4 304.5,270.7 306.2,269.8 307.9,268.8 309.7,267.6 311.3,266.4 312.9,265.2 314.4,263.8 315.9,262.2 317.4,260.5 318.7,258.9 319.8,257.6 320.6,256.6" fill="none" stroke="#0000ff" stroke-width="2.2" stroke-linejoin="round" stroke-dasharray="0.01 3.05" stroke-linecap="round"/></g><g clip-path="url(#cr)"><polyline points="322.0,222.7 322.6,249.5 323.2,217.3 323.8,240.6 324.4,226.2 325.0,233.2 325.6,226.5 326.2,253.4 326.8,201.1 327.4,256.5 328.0,207.0 328.6,239.5 329.2,199.7 329.8,249.9 330.4,204.0 331.0,250.5 331.6,212.6 332.2,241.8 332.8,191.9 333.4,244.6 334.0,182.5 334.6,255.0 335.2,202.6 335.8,250.9 336.4,204.7 337.0,244.2 337.6,207.6 338.2,242.1 338.8,215.9 339.4,219.5 340.0,193.2 340.6,241.0 341.2,181.7 341.8,233.8 342.4,209.3 343.0,229.9 343.6,196.4 344.2,248.6 344.8,211.4 345.4,249.7 346.0,185.3 346.6,231.6 347.2,206.8 347.8,242.4 348.4,212.5 349.0,257.4 349.6,191.5 350.2,254.8 350.8,208.1 351.4,229.8 352.0,218.9 352.6,248.7 353.2,209.2 353.8,222.0 354.4,202.1 355.0,245.8 355.6,201.5 356.2,247.8 356.8,197.6 357.4,216.0 358.0,196.0 358.6,219.2 359.2,203.1 359.8,240.3 360.4,189.6 361.0,224.4 361.6,183.3 362.2,224.8 362.8,129.6 363.4,206.8 364.0,141.1 364.6,205.7 365.2,50.5 365.8,173.6 366.4,67.2 367.0,127.3 367.6,116.9 368.2,165.0 368.8,118.3 369.4,129.7 370.0,99.3 370.6,133.4 371.2,121.0 371.8,145.6" fill="none" stroke="#b4b4b4" stroke-width="0.8" stroke-linejoin="round" /><polyline points="369.3,60.0 369.3,29.5" fill="none" stroke="#b4b4b4" stroke-width="1.2" stroke-linejoin="round" /><polyline points="321.0,185.3 321.5,192.7 322.0,184.9 322.5,194.0 323.0,186.1 323.5,197.5 324.0,176.0 324.5,195.7 325.0,183.9 325.5,200.5 326.0,177.1 326.5,199.1 327.0,190.8 327.5,202.6 328.0,187.3 328.5,202.2 329.0,185.9 329.5,196.7 330.0,177.7 330.5,199.2 331.0,183.4 331.5,201.7 332.0,184.0 332.5,198.1 333.0,171.3 333.5,190.0 334.0,183.9 334.5,196.4 335.0,175.3 335.5,185.9 336.0,179.6 336.5,189.6 337.0,169.6 337.5,180.9 338.0,166.8 338.5,196.2 339.0,172.4 339.5,190.7 340.0,157.2 340.5,180.9 341.0,169.5 341.5,182.8 342.0,164.5 342.5,176.7 343.0,158.1 343.5,174.4 344.0,170.8 344.5,174.4 345.0,156.7 345.5,186.4 346.0,167.0 346.5,172.6 347.0,160.9 347.5,185.4 348.0,160.4 348.5,187.1 349.0,165.6 349.5,183.9 350.0,167.5 350.5,181.5 351.0,167.8 351.5,182.7 352.0,153.7 352.5,178.5 353.0,163.6 353.5,177.8 354.0,154.0 354.5,169.1 355.0,148.6 355.5,160.6 356.0,151.8 356.5,167.6 357.0,148.8 357.5,162.7 358.0,125.6 358.5,136.6 359.0,123.3 359.5,127.5 360.0,114.6 360.5,119.1 361.0,87.9 361.5,100.5 362.0,88.5 362.5,98.5 363.0,75.1 363.5,93.2 364.0,72.1 364.5,83.9 365.0,76.7 365.5,85.3 366.0,65.7 366.5,70.8 367.0,60.6 367.5,78.2 368.0,58.4 368.5,66.7 369.0,48.4 369.5,69.1 370.0,64.6 370.5,95.8 371.0,79.1 371.5,103.2 372.0,103.6 372.5,130.9 373.0,113.9 373.5,133.3 374.0,123.7 374.5,140.1 375.0,133.5 375.5,142.6 376.0,132.7 376.5,138.9 377.0,127.8 377.5,141.2 378.0,122.6 378.5,141.0 379.0,114.1 379.5,123.7 380.0,107.4 380.5,117.3 381.0,98.3 381.5,128.8 382.0,87.8 382.5,122.5 383.0,80.5 383.5,116.3 384.0,91.4 384.5,104.2 385.0,84.9 385.5,112.0 386.0,89.2 386.5,111.5 387.0,97.5 387.5,117.8 388.0,102.7 388.5,122.2 389.0,102.1 389.5,127.2 390.0,103.3 390.5,117.6 391.0,108.9 391.5,120.5 392.0,103.1 392.5,130.5 393.0,106.2 393.5,125.8 394.0,111.6 394.5,125.4 395.0,115.1 395.5,120.4 396.0,103.1 396.5,131.8 397.0,117.1 397.5,134.5 398.0,116.0 398.5,140.1 399.0,123.2 399.5,134.9 400.0,117.9 400.5,145.5 401.0,114.4 401.5,137.4 402.0,126.2 402.5,149.3 403.0,125.9 403.5,147.4 404.0,127.7 404.5,157.0 405.0,136.8 405.5,153.8 406.0,149.3 406.5,169.0 407.0,158.6 407.5,169.6 408.0,165.2 408.5,181.6 409.0,167.2 409.5,178.6 410.0,175.4 410.5,186.5 411.0,181.7 411.5,194.3 412.0,183.8 412.5,193.6 413.0,185.8 413.5,198.1 414.0,186.8 414.5,200.9 415.0,185.2 415.5,195.2 416.0,192.3 416.5,197.2 417.0,185.5 417.5,198.2 418.0,188.9 418.5,203.6 419.0,194.1 419.5,198.0 420.0,190.4 420.5,198.4 421.0,185.8 421.5,197.5 422.0,186.1 422.5,200.3 423.0,184.8 423.5,200.1 424.0,187.0 424.5,189.4 425.0,177.8 425.5,197.3 426.0,183.1 426.5,190.0 427.0,179.0 427.5,190.1 428.0,171.8 428.5,180.7 429.0,171.7 429.5,178.1 430.0,168.6 430.5,175.6 431.0,169.0 431.5,180.0 432.0,169.5 432.5,176.6 433.0,167.2 433.5,177.8 434.0,171.0 434.5,185.5 435.0,175.4 435.5,179.5 436.0,170.4 436.5,189.7 437.0,190.2 437.5,209.0 438.0,195.2 438.5,219.2 439.0,210.3 439.5,217.5 440.0,211.6 440.5,226.8 441.0,214.5 441.5,229.6 442.0,218.6 442.5,230.4 443.0,220.2 443.5,231.2 444.0,224.1 444.5,231.4 445.0,223.7 445.5,232.1 446.0,228.2 446.5,236.8 447.0,222.9 447.5,238.4 448.0,227.2 448.5,236.9 449.0,226.7 449.5,234.7 450.0,230.1 450.5,239.4 451.0,226.5 451.5,235.1 452.0,224.9 452.5,242.0 453.0,232.9 453.5,235.9 454.0,234.0 454.5,238.1 455.0,231.5 455.5,237.8 456.0,230.1 456.5,247.4 457.0,235.8 457.5,245.1 458.0,228.9 458.5,247.7 459.0,234.3 459.5,250.4 460.0,230.7 460.5,243.9 461.0,233.0 461.5,250.2 462.0,231.5 462.5,245.9 463.0,240.8 463.5,246.3 464.0,235.4 464.5,251.1 465.0,233.2 465.5,253.6 466.0,236.3 466.5,246.4 467.0,233.7 467.5,251.0 468.0,233.0 468.5,249.0 469.0,228.6 469.5,244.9 470.0,231.1 470.5,249.9 471.0,236.3 471.5,249.1 472.0,226.7 472.5,244.9 473.0,230.4 473.5,247.7 474.0,227.2 474.5,240.5 475.0,227.9 475.5,244.7 476.0,226.5 476.5,235.7 477.0,229.9 477.5,240.9 478.0,225.2 478.5,234.2 479.0,221.2 479.5,232.8 480.0,215.2 480.5,226.9 481.0,215.4 481.5,230.7 482.0,214.3 482.5,226.3 483.0,211.7 483.5,221.2 484.0,214.3 484.5,216.7 485.0,208.8 485.5,214.1 486.0,210.7 486.5,212.4 487.0,198.5 487.5,207.0 488.0,193.3 488.5,203.1 489.0,191.5 489.5,208.0 490.0,190.0 490.5,194.8 491.0,175.8 491.5,190.3 492.0,185.4 492.5,189.5 493.0,179.3 493.5,185.1 494.0,181.4 494.5,183.8 495.0,179.0 495.5,184.4 496.0,175.6 496.5,192.5 497.0,168.7 497.5,180.0 498.0,169.6 498.5,180.3 499.0,172.7 499.5,190.3 500.0,164.7 500.5,190.6 501.0,173.2 501.5,190.0 502.0,176.5 502.5,185.7 503.0,183.6 503.5,199.2 504.0,184.8 504.5,199.7 505.0,187.1 505.5,199.1 506.0,192.7 506.5,196.9 507.0,192.5 507.5,208.0 508.0,188.1 508.5,204.9 509.0,195.1 509.5,210.0 510.0,195.4 510.5,216.8 511.0,205.5 511.5,222.9 512.0,201.1 512.5,216.5 513.0,209.7 513.5,217.1 514.0,212.3 514.5,227.4 515.0,210.4 515.5,219.1 516.0,206.1 516.5,227.1 517.0,210.5 517.5,230.9 518.0,205.1 518.5,218.8 519.0,216.3 519.5,233.8 520.0,209.3 520.5,230.7 521.0,206.1 521.5,231.6 522.0,205.3 522.5,230.5 523.0,204.1 523.5,221.9 524.0,214.0 524.5,227.4 525.0,210.8 525.5,223.8 526.0,209.3 526.5,227.8 527.0,205.7 527.5,222.4 528.0,208.5 528.5,221.4 529.0,213.0 529.5,233.2 530.0,215.4 530.5,221.4 531.0,204.8 531.5,230.6 532.0,203.7 532.5,229.0 533.0,216.5 533.5,220.4 534.0,214.9 534.5,231.6 535.0,211.3 535.5,228.8 536.0,214.1 536.5,222.3 537.0,209.6 537.5,229.5 538.0,218.3 538.5,234.6 539.0,208.8 539.5,227.4 540.0,215.5 540.5,220.0 541.0,210.0 541.5,219.3 542.0,213.9 542.5,221.2 543.0,210.7 543.5,220.5 544.0,209.2 544.5,223.9 545.0,211.7 545.5,228.6 546.0,212.4 546.5,228.6 547.0,214.2 547.5,226.7 548.0,204.1 548.5,222.1 549.0,217.5 549.5,230.8 550.0,216.9 550.5,222.1 551.0,214.4 551.5,234.7 552.0,208.6 552.5,227.7 553.0,214.6 553.5,231.6 554.0,215.5 554.5,220.5 555.0,218.0 555.5,223.2 556.0,205.4 556.5,233.3 557.0,207.9 557.5,218.0 558.0,203.5 558.5,219.7 559.0,212.5 559.5,232.0 560.0,209.2 560.5,230.9 561.0,214.2 561.5,231.8 562.0,208.6 562.5,221.7 563.0,215.5 563.5,230.3 564.0,207.6 564.5,226.4 565.0,205.7 565.5,220.4 566.0,205.9 566.5,219.5 567.0,209.0 567.5,225.2 568.0,204.2 568.5,222.2 569.0,202.9 569.5,218.1 570.0,211.1 570.5,221.5 571.0,203.7 571.5,218.7 572.0,206.4 572.5,216.6 573.0,207.0 573.5,215.7 574.0,198.5 574.5,214.6 575.0,206.4 575.5,216.5 576.0,205.6 576.5,206.8 577.0,196.0 577.5,213.7 578.0,202.5 578.5,202.7 579.0,199.2 579.5,209.3 580.0,199.5 580.5,203.1 581.0,191.9 581.5,206.8 582.0,194.1 582.5,203.0 583.0,196.5 583.5,201.4 584.0,193.2 584.5,202.9 585.0,187.6 585.5,205.5 586.0,183.7 586.5,194.8 587.0,187.6 587.5,201.4 588.0,188.8 588.5,192.3 589.0,185.3 589.5,198.3 590.0,179.8 590.5,192.0 591.0,187.5 591.5,199.5 592.0,182.5 592.5,192.8 593.0,183.2 593.5,197.4 594.0,177.9 594.5,189.6 595.0,180.9 595.5,197.3" fill="none" stroke="#9a9a9a" stroke-width="0.9" stroke-linejoin="round" /><polyline points="321.0,182.6 321.4,188.7 321.8,184.5 322.2,202.1 322.6,177.7 323.0,197.8 323.4,185.2 323.8,191.2 324.2,184.5 324.6,193.8 325.0,184.3 325.4,189.2 325.8,189.2 326.2,201.0 326.6,191.4 327.0,197.1 327.4,182.6 327.8,200.3 328.2,186.9 328.6,191.1 329.0,188.7 329.4,200.3 329.8,188.4 330.2,195.1 330.6,180.1 331.0,195.5 331.4,189.4 331.8,197.2 332.2,180.2 332.6,192.3 333.0,179.8 333.4,184.7 333.8,180.6 334.2,194.7 334.6,177.8 335.0,181.9 335.4,172.8 335.8,190.7 336.2,181.0 336.6,182.3 337.0,169.0 337.4,191.1 337.8,176.2 338.2,194.0 338.6,169.7 339.0,174.9 339.4,162.3 339.8,188.3 340.2,174.6 340.6,178.0 341.0,159.4 341.4,180.7 341.8,165.8 342.2,180.9 342.6,166.9 343.0,171.8 343.4,171.7 343.8,174.2 344.2,164.9 344.6,170.1 345.0,171.2 345.4,181.5 345.8,165.6 346.2,180.6 346.6,158.7 347.0,181.2 347.4,166.5 347.8,171.8 348.2,166.0 348.6,181.9 349.0,172.7 349.4,175.0 349.8,173.2 350.2,172.0 350.6,159.5 351.0,170.8 351.4,160.3 351.8,180.4 352.2,157.5 352.6,164.9 353.0,167.4 353.4,170.1 353.8,154.6 354.2,170.4 354.6,152.2 355.0,158.2 355.4,146.9 355.8,157.4 356.2,144.4 356.6,159.4 357.0,148.1 357.4,148.1 357.8,142.3 358.2,139.4 358.6,136.2 359.0,143.8 359.4,115.6 359.8,130.5 360.2,115.3 360.6,108.3 361.0,91.1 361.4,98.6 361.8,91.3 362.2,93.8 362.6,87.4 363.0,86.1 363.4,73.9 363.8,80.1 364.2,72.5 364.6,82.4 365.0,67.7 365.4,75.9 365.8,69.4 366.2,73.3 366.6,63.8 367.0,69.8 367.4,58.6 367.8,70.8 368.2,58.1 368.6,68.2 369.0,45.2 369.4,67.5 369.8,54.0 370.2,81.0 370.6,82.3 371.0,101.6 371.4,79.6 371.8,98.6 372.2,107.2 372.6,114.2 373.0,114.0 373.4,131.1 373.8,125.9 374.2,135.3 374.6,126.9 375.0,137.8 375.4,136.3 375.8,146.2 376.2,138.4 376.6,135.3 377.0,128.6 377.4,144.0 377.8,124.0 378.2,139.7 378.6,125.4 379.0,134.2 379.4,113.9 379.8,128.6 380.2,113.7 380.6,114.8 381.0,114.6 381.4,118.4 381.8,104.8 382.2,119.4 382.6,96.8 383.0,97.2 383.4,98.9 383.8,108.0 384.2,103.1 384.6,96.0 385.0,97.7 385.4,96.5 385.8,86.1 386.2,112.7 386.6,99.3 387.0,112.5 387.4,86.1 387.8,110.6 388.2,98.3 388.6,115.9 389.0,113.4 389.4,114.7 389.8,112.2 390.2,127.1 390.6,112.2 391.0,122.7 391.4,101.6 391.8,119.1 392.2,104.5 392.6,115.0 393.0,102.4 393.4,128.6 393.8,107.0 394.2,118.2 394.6,106.8 395.0,126.2 395.4,100.1 395.8,116.3 396.2,117.9 396.6,117.0 397.0,107.4 397.4,136.2 397.8,111.3 398.2,130.1 398.6,128.2 399.0,122.4 399.4,121.4 399.8,123.0 400.2,124.8 400.6,143.3 401.0,128.6 401.4,130.1 401.8,123.3 402.2,136.2 402.6,134.9 403.0,139.0 403.4,140.2 403.8,141.5 404.2,135.0 404.6,143.3 405.0,141.3 405.4,149.3 405.8,145.6 406.2,157.5 406.6,153.9 407.0,164.8 407.4,164.7 407.8,178.9 408.2,168.8 408.6,176.7 409.0,171.0 409.4,184.1 409.8,178.4 410.2,181.8 410.6,179.8 411.0,189.1 411.4,177.5 411.8,184.3 412.2,178.2 412.6,188.6 413.0,188.3 413.4,193.8 413.8,188.8 414.2,191.4 414.6,188.4 415.0,191.8 415.4,190.6 415.8,191.9 416.2,191.1 416.6,197.5 417.0,195.2 417.4,196.1 417.8,191.4 418.2,199.1 418.6,191.5 419.0,200.1 419.4,192.6 419.8,193.2 420.2,194.9 420.6,198.8 421.0,195.1 421.4,197.9 421.8,185.9 422.2,192.6 422.6,186.9 423.0,192.9 423.4,191.2 423.8,196.9 424.2,183.0 424.6,190.0 425.0,181.3 425.4,192.4 425.8,186.2 426.2,183.7 426.6,178.9 427.0,191.2 427.4,183.5 427.8,186.3 428.2,174.4 428.6,179.3 429.0,176.4 429.4,178.3 429.8,169.4 430.2,176.8 430.6,166.3 431.0,175.1 431.4,164.3 431.8,179.9 432.2,171.1 432.6,178.5 433.0,164.7 433.4,170.6 433.8,174.5 434.2,177.2 434.6,177.6 435.0,178.6 435.4,171.0 435.8,183.9 436.2,177.6 436.6,189.6 437.0,193.8 437.4,205.8 437.8,201.2 438.2,215.5 438.6,200.0 439.0,212.4 439.4,209.0 439.8,221.7 440.2,220.0 440.6,228.9 441.0,216.2 441.4,222.6 441.8,220.3 442.2,224.1 442.6,219.0 443.0,225.8 443.4,228.5 443.8,230.5 444.2,221.6 444.6,235.0 445.0,222.1 445.4,235.2 445.8,230.1 446.2,238.2 446.6,227.4 447.0,232.3 447.4,226.3 447.8,237.2 448.2,225.7 448.6,230.8 449.0,232.1 449.4,234.1 449.8,227.1 450.2,239.6 450.6,230.3 451.0,241.3 451.4,231.5 451.8,237.2 452.2,232.3 452.6,233.4 453.0,230.1 453.4,234.4 453.8,234.3 454.2,235.8 454.6,235.6 455.0,235.8 455.4,238.9 455.8,242.4 456.2,239.1 456.6,243.7 457.0,231.0 457.4,244.1 457.8,240.7 458.2,243.8 458.6,231.5 459.0,247.8 459.4,235.7 459.8,239.3 460.2,237.0 460.6,250.1 461.0,238.9 461.4,248.1 461.8,239.9 462.2,240.3 462.6,234.7 463.0,244.9 463.4,238.1 463.8,248.9 464.2,238.6 464.6,250.5 465.0,237.6 465.4,250.4 465.8,242.2 466.2,240.5 466.6,234.2 467.0,249.8 467.4,242.1 467.8,246.1 468.2,235.7 468.6,243.0 469.0,236.9 469.4,245.7 469.8,233.1 470.2,240.8 470.6,232.1 471.0,242.2 471.4,236.1 471.8,242.1 472.2,236.8 472.6,245.5 473.0,234.6 473.4,236.7 473.8,232.9 474.2,234.8 474.6,233.3 475.0,236.4 475.4,233.8 475.8,238.7 476.2,230.3 476.6,236.4 477.0,225.6 477.4,239.3 477.8,222.9 478.2,229.9 478.6,220.8 479.0,225.5 479.4,228.2 479.8,225.0 480.2,224.5 480.6,221.8 481.0,224.6 481.4,221.3 481.8,218.6 482.2,223.4 482.6,220.1 483.0,226.8 483.4,213.5 483.8,226.0 484.2,213.3 484.6,219.0 485.0,206.1 485.4,211.1 485.8,210.7 486.2,221.2 486.6,199.3 487.0,216.7 487.4,202.3 487.8,204.1 488.2,198.3 488.6,202.7 489.0,198.8 489.4,200.0 489.8,195.2 490.2,200.4 490.6,183.7 491.0,189.4 491.4,181.7 491.8,187.7 492.2,173.8 492.6,193.8 493.0,172.6 493.4,185.8 493.8,171.5 494.2,179.2 494.6,178.7 495.0,184.1 495.4,172.6 495.8,188.2 496.2,176.0 496.6,188.9 497.0,171.9 497.4,183.7 497.8,174.3 498.2,182.4 498.6,169.4 499.0,187.9 499.4,174.9 499.8,176.5 500.2,178.7 500.6,177.9 501.0,182.2 501.4,185.7 501.8,184.5 502.2,184.4 502.6,183.0 503.0,191.4 503.4,175.5 503.8,197.0 504.2,180.4 504.6,199.5 505.0,180.1 505.4,191.9 505.8,188.7 506.2,199.1 506.6,194.2 507.0,201.3 507.4,188.7 507.8,200.7 508.2,190.1 508.6,217.3 509.0,203.4 509.4,210.6 509.8,209.5 510.2,219.7 510.6,211.0 511.0,219.5 511.4,210.5 511.8,223.4 512.2,205.4 512.6,220.3 513.0,211.2 513.4,224.0 513.8,215.5 514.2,225.9 514.6,219.3 515.0,232.0 515.4,207.2 515.8,218.9 516.2,207.4 516.6,224.0 517.0,212.6 517.4,219.4 517.8,208.0 518.2,218.0 518.6,208.2 519.0,215.3 519.4,213.8 519.8,229.5 520.2,217.9 520.6,217.8 521.0,213.5 521.4,229.4 521.8,206.5 522.2,231.7 522.6,215.3 523.0,216.1 523.4,217.9 523.8,227.9 524.2,210.8 524.6,223.8 525.0,213.2 525.4,222.3 525.8,212.4 526.2,230.4 526.6,215.9 527.0,220.0 527.4,208.5 527.8,224.1 528.2,208.1 528.6,226.2 529.0,210.2 529.4,230.5 529.8,220.5 530.2,224.7 530.6,218.0 531.0,227.7 531.4,217.6 531.8,231.0 532.2,215.1 532.6,216.0 533.0,219.0 533.4,229.0 533.8,219.7 534.2,226.4 534.6,213.5 535.0,225.2 535.4,210.7 535.8,216.9 536.2,217.0 536.6,221.8 537.0,205.3 537.4,228.1 537.8,219.4 538.2,217.1 538.6,220.0 539.0,224.5 539.4,204.8 539.8,216.0 540.2,207.7 540.6,222.0 541.0,219.2 541.4,219.6 541.8,213.2 542.2,228.9 542.6,217.6 543.0,230.5 543.4,214.9 543.8,220.5 544.2,214.7 544.6,225.3 545.0,205.7 545.4,225.4 545.8,213.7 546.2,227.7 546.6,221.1 547.0,226.9 547.4,204.6 547.8,218.3 548.2,213.8 548.6,226.2 549.0,206.2 549.4,227.9 549.8,206.4 550.2,230.0 550.6,219.6 551.0,223.2 551.4,210.1 551.8,225.9 552.2,205.1 552.6,225.9 553.0,207.5 553.4,222.1 553.8,219.6 554.2,222.2 554.6,206.1 555.0,219.7 555.4,213.7 555.8,227.6 556.2,213.2 556.6,215.3 557.0,207.7 557.4,226.9 557.8,215.5 558.2,227.9 558.6,218.6 559.0,229.4 559.4,216.7 559.8,227.6 560.2,220.3 560.6,217.4 561.0,213.2 561.4,217.2 561.8,217.0 562.2,220.5 562.6,208.1 563.0,226.2 563.4,211.9 563.8,215.4 564.2,213.7 564.6,227.5 565.0,207.4 565.4,224.6 565.8,211.6 566.2,217.8 566.6,209.4 567.0,220.2 567.4,213.2 567.8,217.0 568.2,209.7 568.6,225.1 569.0,209.5 569.4,214.5 569.8,206.7 570.2,221.1 570.6,206.0 571.0,217.7 571.4,212.8 571.8,213.7 572.2,210.3 572.6,214.1 573.0,206.4 573.4,209.6 573.8,206.3 574.2,211.4 574.6,206.1 575.0,214.0 575.4,202.1 575.8,210.1 576.2,199.1 576.6,213.7 577.0,195.7 577.4,210.3 577.8,203.1 578.2,202.5 578.6,201.6 579.0,209.8 579.4,196.4 579.8,209.5 580.2,199.1 580.6,206.2 581.0,201.5 581.4,207.0 581.8,193.2 582.2,202.9 582.6,197.7 583.0,195.3 583.4,196.1 583.8,195.8 584.2,197.5 584.6,194.7 585.0,197.2 585.4,200.6 585.8,188.9 586.2,198.7 586.6,185.6 587.0,198.6 587.4,188.6 587.8,191.2 588.2,191.1 588.6,195.5 589.0,183.4 589.4,199.9 589.8,192.9 590.2,195.8 590.6,185.1 591.0,197.4 591.4,192.0 591.8,187.8 592.2,181.0 592.6,191.9 593.0,185.1 593.4,193.9 593.8,181.2 594.2,192.8 594.6,183.5 595.0,190.6 595.4,182.2" fill="none" stroke="#000" stroke-width="1.05" stroke-linejoin="round" /><polyline points="369.2,75.0 369.2,36.0" fill="none" stroke="#000" stroke-width="1.2" stroke-linejoin="round" /><polyline points="386.8,110.0 386.8,81.0" fill="none" stroke="#000" stroke-width="1.6" stroke-linejoin="round" /><polyline points="393.6,118.0 393.6,104.8" fill="none" stroke="#000" stroke-width="1.0" stroke-linejoin="round" /><polyline points="399.5,125.0 399.5,110.7" fill="none" stroke="#000" stroke-width="1.2" stroke-linejoin="round" /><polyline points="490.7,190.0 490.7,170.6" fill="none" stroke="#000" stroke-width="1.0" stroke-linejoin="round" /><polyline points="501.8,180.0 501.8,167.0" fill="none" stroke="#000" stroke-width="1.2" stroke-linejoin="round" /><polyline points="546.0,210.0 546.0,192.7" fill="none" stroke="#000" stroke-width="1.0" stroke-linejoin="round" /><polyline points="321.0,199.5 321.2,199.5 321.5,199.5 321.8,199.4 322.2,199.4 322.6,199.3 323.0,199.3 323.4,199.3 323.9,199.2 324.4,199.2 324.9,199.1 325.5,199.1 326.0,199.0 326.6,199.0 327.2,198.9 327.8,198.9 328.4,198.8 329.0,198.7 329.5,198.5 330.0,198.2 330.4,197.8 330.8,197.4 331.2,197.0 331.6,196.5 332.0,196.0 332.4,195.5 332.8,195.0 333.2,194.4 333.6,193.9 334.0,193.3 334.4,192.8 334.8,192.3 335.3,191.7 335.7,191.2 336.1,190.6 336.6,190.1 337.0,189.5 337.4,189.0 337.8,188.5 338.1,187.9 338.5,187.4 338.9,186.8 339.3,186.2 339.8,185.5 340.4,184.6 340.9,183.7 341.5,182.9 342.1,182.0 342.6,181.3 343.1,180.7 343.5,180.1 343.9,179.5 344.2,179.0 344.6,178.5 345.0,178.0 345.4,177.3 345.9,176.6 346.3,175.8 346.7,175.1 347.1,174.8 347.5,174.8 347.8,175.5 348.1,176.7 348.3,178.3 348.5,179.7 348.8,180.9 349.1,181.3 349.5,181.0 349.9,180.1 350.3,178.9 350.7,177.5 351.2,176.0 351.6,174.8 352.0,173.7 352.4,172.5 352.9,171.4 353.3,170.3 353.7,169.2 354.0,168.2 354.3,167.3 354.6,166.6 354.8,165.8 355.0,165.1 355.2,164.4 355.5,163.5 355.8,162.5 356.1,161.5 356.5,160.5 356.8,159.4 357.1,158.2 357.3,157.0 357.5,155.9 357.6,155.1 357.6,154.2 357.7,153.0 357.8,151.2 358.0,148.5 358.3,144.8 358.7,140.2 359.1,135.1 359.5,129.6 359.9,124.2 360.3,119.0 360.7,113.9 361.0,108.7 361.4,103.5 361.8,98.5 362.1,93.7 362.4,89.5 362.7,85.6 362.9,82.0 363.1,78.7 363.3,75.8 363.5,73.5 363.8,71.8 364.2,71.0 364.6,71.1 365.1,71.7 365.6,72.5 366.0,73.2 366.5,73.5 367.0,73.3 367.5,72.7 368.0,72.1 368.4,71.5 368.8,71.3 369.2,71.5 369.5,72.2 369.7,73.3 369.8,74.7 370.0,76.3 370.1,78.1 370.3,80.0 370.5,82.1 370.7,84.5 370.9,87.1 371.1,89.8 371.3,92.4 371.5,95.0 371.7,97.4 371.8,99.8 371.9,102.2 372.1,104.7 372.3,107.2 372.5,110.0 372.8,113.1 373.1,116.6 373.5,120.1 373.9,123.6 374.2,126.9 374.5,129.7 374.7,132.0 374.8,134.0 374.9,135.8 374.9,137.4 375.0,138.8 375.1,140.1 375.2,141.4 375.3,142.6 375.4,143.7 375.5,144.6 375.6,145.2 375.8,145.4 376.0,145.1 376.2,144.4 376.4,143.3 376.6,142.2 376.9,141.0 377.1,140.1 377.3,139.4 377.5,138.7 377.7,138.1 377.9,137.5 378.1,136.9 378.4,136.2 378.7,135.4 379.0,134.5 379.3,133.5 379.7,132.6 380.0,131.7 380.3,131.0 380.6,130.5 380.8,130.2 381.1,129.9 381.3,129.6 381.5,129.2 381.7,128.5 381.8,127.5 382.0,126.2 382.0,124.8 382.1,123.3 382.2,121.8 382.3,120.5 382.4,119.3 382.5,118.1 382.6,116.9 382.7,115.8 382.8,114.8 383.0,114.0 383.2,113.4 383.4,112.9 383.6,112.5 383.8,112.2 384.0,112.0 384.3,112.0 384.6,112.1 384.9,112.3 385.2,112.7 385.6,113.1 385.9,113.6 386.2,114.0 386.4,114.3 386.7,114.6 386.8,114.9 387.1,115.2 387.3,115.8 387.6,116.6 388.0,117.8 388.4,119.3 388.9,121.0 389.4,122.8 389.9,124.3 390.3,125.6 390.7,126.6 391.0,127.6 391.3,128.4 391.5,129.0 391.8,129.3 392.1,129.2 392.4,128.5 392.7,127.3 393.0,125.8 393.3,124.2 393.6,122.9 393.9,122.0 394.2,121.6 394.5,121.4 394.8,121.5 395.1,121.8 395.4,122.2 395.7,122.9 396.0,123.9 396.3,125.1 396.6,126.6 396.9,128.2 397.2,129.7 397.5,131.0 397.8,132.2 398.1,133.4 398.4,134.5 398.7,135.6 399.0,136.5 399.3,137.3 399.6,137.9 399.9,138.2 400.2,138.4 400.5,138.6 400.8,138.8 401.1,139.1 401.4,139.5 401.7,139.8 402.0,140.2 402.3,140.7 402.6,141.2 402.9,141.8 403.2,142.6 403.5,143.5 403.9,144.4 404.2,145.4 404.5,146.4 404.7,147.3 404.9,147.9 405.0,148.3 405.1,148.6 405.3,149.2 405.4,150.2 405.6,152.0 405.8,154.8 406.1,158.6 406.3,162.8 406.6,167.1 407.0,171.1 407.4,174.3 407.9,176.6 408.5,178.5 409.1,179.9 409.7,181.2 410.4,182.5 411.0,184.0 411.6,185.7 412.2,187.6 412.8,189.5 413.5,191.2 414.1,192.8 414.7,194.0 415.3,194.9 415.9,195.5 416.5,196.0 417.1,196.2 417.7,196.4 418.4,196.4 419.2,196.4 420.0,196.2 420.8,196.0 421.7,195.5 422.5,194.9 423.3,194.0 424.0,192.8 424.6,191.2 425.2,189.5 425.8,187.6 426.4,185.7 427.0,184.0 427.6,182.3 428.3,180.4 428.9,178.6 429.6,176.9 430.2,175.4 430.7,174.3 431.2,173.5 431.6,173.0 432.0,172.7 432.4,172.7 432.8,172.8 433.2,173.0 433.6,173.3 434.0,173.8 434.4,174.4 434.9,175.3 435.2,176.5 435.6,178.0 435.9,180.0 436.2,182.5 436.5,185.3 436.8,188.3 437.0,191.2 437.3,194.0 437.5,196.7 437.8,199.5 438.0,202.2 438.2,205.0 438.4,207.6 438.7,210.0 439.0,212.3 439.3,214.4 439.7,216.4 440.1,218.3 440.5,220.2 441.0,222.0 441.6,223.8 442.2,225.6 442.8,227.4 443.5,229.0 444.1,230.5 444.7,231.7 445.2,232.7 445.6,233.5 446.0,234.1 446.3,234.6 446.7,235.0 447.1,235.4 447.5,235.8 447.9,236.1 448.4,236.3 448.8,236.5 449.2,236.6 449.6,236.6 450.0,236.5 450.4,236.3 450.8,236.0 451.2,235.7 451.6,235.5 452.0,235.4 452.4,235.4 452.8,235.5 453.2,235.6 453.6,235.8 454.0,236.2 454.5,236.6 455.0,237.2 455.5,238.0 456.1,238.9 456.7,239.9 457.3,240.8 458.0,241.5 458.7,242.2 459.6,242.8 460.4,243.3 461.3,243.8 462.1,244.2 463.0,244.5 463.8,244.7 464.6,244.7 465.4,244.7 466.3,244.5 467.1,244.3 468.0,244.0 469.0,243.6 470.0,243.2 471.1,242.6 472.1,242.0 473.1,241.3 474.0,240.5 474.8,239.6 475.5,238.7 476.1,237.7 476.7,236.6 477.3,235.4 477.9,234.2 478.5,232.9 479.2,231.5 479.8,230.0 480.4,228.6 481.0,227.1 481.6,225.6 482.2,224.2 482.8,222.7 483.5,221.2 484.1,219.8 484.7,218.4 485.2,217.0 485.7,215.7 486.1,214.5 486.5,213.4 486.9,212.2 487.3,211.0 487.7,209.6 488.1,208.1 488.5,206.6 488.9,205.0 489.3,203.3 489.8,201.6 490.2,199.8 490.7,197.9 491.1,195.8 491.6,193.6 492.1,191.5 492.6,189.6 493.1,188.0 493.7,186.7 494.3,185.6 494.9,184.8 495.5,184.0 496.2,183.5 496.8,183.0 497.4,182.6 498.0,182.4 498.6,182.3 499.3,182.4 499.9,182.6 500.5,183.0 501.1,183.6 501.8,184.5 502.4,185.5 503.1,186.7 503.7,187.8 504.2,189.0 504.7,190.2 505.1,191.4 505.5,192.7 505.9,194.0 506.3,195.2 506.7,196.4 507.1,197.5 507.5,198.6 507.8,199.6 508.2,200.7 508.7,201.6 509.2,202.6 509.8,203.6 510.4,204.5 511.1,205.4 511.8,206.3 512.7,207.1 513.8,207.8 515.1,208.4 516.6,208.9 518.3,209.4 519.9,209.8 521.6,210.2 523.0,210.6 524.3,211.0 525.5,211.5 526.7,212.0 527.8,212.4 528.8,212.7 529.8,212.9 530.7,213.0 531.5,213.0 532.3,212.9 533.0,212.8 533.7,212.6 534.4,212.4 535.0,212.1 535.6,211.8 536.1,211.4 536.6,211.1 537.2,210.8 537.8,210.6 538.5,210.5 539.3,210.6 540.1,210.7 540.9,210.8 541.7,211.0 542.4,211.2 543.0,211.4 543.6,211.7 544.1,212.0 544.6,212.4 545.2,212.7 545.9,212.9 546.7,213.1 547.5,213.2 548.4,213.4 549.4,213.5 550.5,213.5 551.6,213.5 552.8,213.4 554.1,213.3 555.5,213.1 557.0,212.9 558.5,212.6 560.0,212.4 561.6,212.2 563.4,212.0 565.3,211.7 567.1,211.4 568.8,211.1 570.4,210.7 571.9,210.2 573.2,209.6 574.5,208.9 575.8,208.3 576.9,207.6 578.0,207.0 579.0,206.5 579.8,206.0 580.5,205.5 581.3,205.0 582.1,204.5 583.0,203.8 584.1,203.0 585.2,202.0 586.5,201.0 587.7,199.9 588.9,198.9 590.0,198.0 591.1,197.2 592.2,196.4 593.3,195.6 594.3,195.0 595.1,194.4 595.7,194.0" fill="none" stroke="#aeeeee" stroke-width="4.8" stroke-linejoin="round" /><polyline points="320.9,203.4 347.0,204.2 347.8,203.1 347.8,221.9 352.6,221.9 352.6,234.1 358.0,234.1 358.0,239.0 365.2,239.0 365.2,242.6 370.6,242.6 370.6,239.0 376.4,239.0 376.4,222.8 382.9,222.8 382.9,206.3 385.0,204.2 436.0,205.9 436.4,215.4 437.0,226.9 439.6,226.9 439.6,232.6 442.2,232.6 442.2,236.6 444.8,236.6 444.8,239.5 447.4,239.5 447.4,241.2 450.0,241.2 450.0,244.7 452.6,244.7 452.6,247.7 455.2,247.7 455.2,250.3 457.8,250.3 457.8,252.9 460.4,252.9 460.4,254.4 463.0,254.4 463.0,254.9 465.6,254.9 465.6,254.3 468.2,254.3 468.2,251.8 470.8,251.8 470.8,248.5 473.4,248.5 473.4,244.6 476.0,244.6 476.0,240.3 478.6,240.3 478.6,235.3 481.2,235.3 481.2,228.3 483.8,228.3 483.8,221.3 486.4,221.3 486.4,213.8 489.0,213.8 489.2,207.9 595.7,211.4" fill="none" stroke="#a0522d" stroke-width="4.4" stroke-linejoin="round" /><polyline points="320.9,203.4 347.0,204.2 347.8,203.1 347.8,221.9 352.6,221.9 352.6,234.1 358.0,234.1 358.0,239.0 365.2,239.0 365.2,242.6 370.6,242.6 370.6,239.0 376.4,239.0 376.4,222.8 382.9,222.8 382.9,206.3 385.0,204.2 436.0,205.9 436.4,215.4 437.0,226.9 439.6,226.9 439.6,232.6 442.2,232.6 442.2,236.6 444.8,236.6 444.8,239.5 447.4,239.5 447.4,241.2 450.0,241.2 450.0,244.7 452.6,244.7 452.6,247.7 455.2,247.7 455.2,250.3 457.8,250.3 457.8,252.9 460.4,252.9 460.4,254.4 463.0,254.4 463.0,254.9 465.6,254.9 465.6,254.3 468.2,254.3 468.2,251.8 470.8,251.8 470.8,248.5 473.4,248.5 473.4,244.6 476.0,244.6 476.0,240.3 478.6,240.3 478.6,235.3 481.2,235.3 481.2,228.3 483.8,228.3 483.8,221.3 486.4,221.3 486.4,213.8 489.0,213.8 489.2,207.9 595.7,211.4" fill="none" stroke="#ffa500" stroke-width="3.2" stroke-linejoin="round" /><polyline points="320.9,201.3 348.2,202.3 348.2,221.1 353.0,221.1 353.0,233.3 358.4,233.3 358.4,238.2 365.6,238.2 365.6,241.8 371.0,241.8 371.0,238.2 376.8,238.2 376.8,222.0 383.3,222.0 383.3,205.5 385.0,203.8" fill="none" stroke="#9400d3" stroke-width="2.2" stroke-linejoin="round" /><line x1="320.9" y1="201.3" x2="436" y2="205.5" stroke="#ff1493" stroke-width="2"/><line x1="489" y1="207.4" x2="595.7" y2="211.4" stroke="#ff1493" stroke-width="2"/><line x1="320.9" y1="200.7" x2="595.7" y2="210.8" stroke="#008000" stroke-width="2.0" stroke-dasharray="8.4 2.8"/><line x1="320.9" y1="201.9" x2="595.7" y2="212.0" stroke="#008000" stroke-width="2.0" stroke-dasharray="8.4 2.8"/><polyline points="436.0,206.5 436.1,214.5 437.0,226.8 439.6,226.8 439.6,232.2 442.2,232.2 442.2,236.1 444.8,236.1 444.8,238.8 447.4,238.8 447.4,240.7 450.0,240.7 450.0,244.2 452.6,244.2 452.6,247.1 455.2,247.1 455.2,249.7 457.8,249.7 457.8,252.3 460.4,252.3 460.4,253.6 463.0,253.6 463.0,253.9 465.6,253.9 465.6,253.3 468.2,253.3 468.2,250.6 470.8,250.6 470.8,247.1 473.4,247.1 473.4,243.2 476.0,243.2 476.0,238.9 478.6,238.9 478.6,233.8 481.2,233.8 481.2,226.5 483.8,226.5 483.8,219.7 486.4,219.7 486.4,212.0 489.0,212.0" fill="none" stroke="#ff1493" stroke-width="3.0" stroke-linejoin="round" /><polyline points="321.0,199.5 321.2,199.5 321.5,199.5 321.8,199.4 322.2,199.4 322.6,199.3 323.0,199.3 323.4,199.3 323.9,199.2 324.4,199.2 324.9,199.1 325.5,199.1 326.0,199.0 326.6,199.0 327.2,198.9 327.8,198.9 328.4,198.8 329.0,198.7 329.5,198.5 330.0,198.2 330.4,197.8 330.8,197.4 331.2,197.0 331.6,196.5 332.0,196.0 332.4,195.5 332.8,195.0 333.2,194.4 333.6,193.9 334.0,193.3 334.4,192.8 334.8,192.3 335.3,191.7 335.7,191.2 336.1,190.6 336.6,190.1 337.0,189.5 337.4,189.0 337.8,188.5 338.1,187.9 338.5,187.4 338.9,186.8 339.3,186.2 339.8,185.5 340.4,184.6 340.9,183.7 341.5,182.9 342.1,182.0 342.6,181.3 343.1,180.7 343.5,180.1 343.9,179.5 344.2,179.0 344.6,178.5 345.0,178.0 345.4,177.3 345.9,176.6 346.3,175.8 346.7,175.1 347.1,174.8 347.5,174.8 347.8,175.5 348.1,176.7 348.3,178.3 348.5,179.7 348.8,180.9 349.1,181.3 349.5,181.0 349.9,180.1 350.3,178.9 350.7,177.5 351.2,176.0 351.6,174.8 352.0,173.7 352.4,172.5 352.9,171.4 353.3,170.3 353.7,169.2 354.0,168.2 354.3,167.3 354.6,166.6 354.8,165.8 355.0,165.1 355.2,164.4 355.5,163.5 355.8,162.5 356.1,161.5 356.5,160.5 356.8,159.4 357.1,158.2 357.3,157.0 357.5,155.9 357.6,155.1 357.6,154.2 357.7,153.0 357.8,151.2 358.0,148.5 358.3,144.8 358.7,140.2 359.1,135.1 359.5,129.6 359.9,124.2 360.3,119.0 360.7,113.9 361.0,108.7 361.4,103.5 361.8,98.5 362.1,93.7 362.4,89.5 362.7,85.6 362.9,82.0 363.1,78.7 363.3,75.8 363.5,73.5 363.8,71.8 364.2,71.0 364.6,71.1 365.1,71.7 365.6,72.5 366.0,73.2 366.5,73.5 367.0,73.3 367.5,72.7 368.0,72.1 368.4,71.5 368.8,71.3 369.2,71.5 369.5,72.2 369.7,73.3 369.8,74.7 370.0,76.3 370.1,78.1 370.3,80.0 370.5,82.1 370.7,84.5 370.9,87.1 371.1,89.8 371.3,92.4 371.5,95.0 371.7,97.4 371.8,99.8 371.9,102.2 372.1,104.7 372.3,107.2 372.5,110.0 372.8,113.1 373.1,116.6 373.5,120.1 373.9,123.6 374.2,126.9 374.5,129.7 374.7,132.0 374.8,134.0 374.9,135.8 374.9,137.4 375.0,138.8 375.1,140.1 375.2,141.4 375.3,142.6 375.4,143.7 375.5,144.6 375.6,145.2 375.8,145.4 376.0,145.1 376.2,144.4 376.4,143.3 376.6,142.2 376.9,141.0 377.1,140.1 377.3,139.4 377.5,138.7 377.7,138.1 377.9,137.5 378.1,136.9 378.4,136.2 378.7,135.4 379.0,134.5 379.3,133.5 379.7,132.6 380.0,131.7 380.3,131.0 380.6,130.5 380.8,130.2 381.1,129.9 381.3,129.6 381.5,129.2 381.7,128.5 381.8,127.5 382.0,126.2 382.0,124.8 382.1,123.3 382.2,121.8 382.3,120.5 382.4,119.3 382.5,118.1 382.6,116.9 382.7,115.8 382.8,114.8 383.0,114.0 383.2,113.4 383.4,112.9 383.6,112.5 383.8,112.2 384.0,112.0 384.3,112.0 384.6,112.1 384.9,112.3 385.2,112.7 385.6,113.1 385.9,113.6 386.2,114.0 386.4,114.3 386.7,114.6 386.8,114.9 387.1,115.2 387.3,115.8 387.6,116.6 388.0,117.8 388.4,119.3 388.9,121.0 389.4,122.8 389.9,124.3 390.3,125.6 390.7,126.6 391.0,127.6 391.3,128.4 391.5,129.0 391.8,129.3 392.1,129.2 392.4,128.5 392.7,127.3 393.0,125.8 393.3,124.2 393.6,122.9 393.9,122.0 394.2,121.6 394.5,121.4 394.8,121.5 395.1,121.8 395.4,122.2 395.7,122.9 396.0,123.9 396.3,125.1 396.6,126.6 396.9,128.2 397.2,129.7 397.5,131.0 397.8,132.2 398.1,133.4 398.4,134.5 398.7,135.6 399.0,136.5 399.3,137.3 399.6,137.9 399.9,138.2 400.2,138.4 400.5,138.6 400.8,138.8 401.1,139.1 401.4,139.5 401.7,139.8 402.0,140.2 402.3,140.7 402.6,141.2 402.9,141.8 403.2,142.6 403.5,143.5 403.9,144.4 404.2,145.4 404.5,146.4 404.7,147.3 404.9,147.9 405.0,148.3 405.1,148.6 405.3,149.2 405.4,150.2 405.6,152.0 405.8,154.8 406.1,158.6 406.3,162.8 406.6,167.1 407.0,171.1 407.4,174.3 407.9,176.6 408.5,178.5 409.1,179.9 409.7,181.2 410.4,182.5 411.0,184.0 411.6,185.7 412.2,187.6 412.8,189.5 413.5,191.2 414.1,192.8 414.7,194.0 415.3,194.9 415.9,195.5 416.5,196.0 417.1,196.2 417.7,196.4 418.4,196.4 419.2,196.4 420.0,196.2 420.8,196.0 421.7,195.5 422.5,194.9 423.3,194.0 424.0,192.8 424.6,191.2 425.2,189.5 425.8,187.6 426.4,185.7 427.0,184.0 427.6,182.3 428.3,180.4 428.9,178.6 429.6,176.9 430.2,175.4 430.7,174.3 431.2,173.5 431.6,173.0 432.0,172.7 432.4,172.7 432.8,172.8 433.2,173.0 433.6,173.3 434.0,173.8 434.4,174.4 434.9,175.3 435.2,176.5 435.6,178.0 435.9,180.0 436.2,182.5 436.5,185.3 436.8,188.3 437.0,191.2 437.3,194.0 437.5,196.7 437.8,199.5 438.0,202.2 438.2,205.0 438.4,207.6 438.7,210.0 439.0,212.3 439.3,214.4 439.7,216.4 440.1,218.3 440.5,220.2 441.0,222.0 441.6,223.8 442.2,225.6 442.8,227.4 443.5,229.0 444.1,230.5 444.7,231.7 445.2,232.7 445.6,233.5 446.0,234.1 446.3,234.6 446.7,235.0 447.1,235.4 447.5,235.8 447.9,236.1 448.4,236.3 448.8,236.5 449.2,236.6 449.6,236.6 450.0,236.5 450.4,236.3 450.8,236.0 451.2,235.7 451.6,235.5 452.0,235.4 452.4,235.4 452.8,235.5 453.2,235.6 453.6,235.8 454.0,236.2 454.5,236.6 455.0,237.2 455.5,238.0 456.1,238.9 456.7,239.9 457.3,240.8 458.0,241.5 458.7,242.2 459.6,242.8 460.4,243.3 461.3,243.8 462.1,244.2 463.0,244.5 463.8,244.7 464.6,244.7 465.4,244.7 466.3,244.5 467.1,244.3 468.0,244.0 469.0,243.6 470.0,243.2 471.1,242.6 472.1,242.0 473.1,241.3 474.0,240.5 474.8,239.6 475.5,238.7 476.1,237.7 476.7,236.6 477.3,235.4 477.9,234.2 478.5,232.9 479.2,231.5 479.8,230.0 480.4,228.6 481.0,227.1 481.6,225.6 482.2,224.2 482.8,222.7 483.5,221.2 484.1,219.8 484.7,218.4 485.2,217.0 485.7,215.7 486.1,214.5 486.5,213.4 486.9,212.2 487.3,211.0 487.7,209.6 488.1,208.1 488.5,206.6 488.9,205.0 489.3,203.3 489.8,201.6 490.2,199.8 490.7,197.9 491.1,195.8 491.6,193.6 492.1,191.5 492.6,189.6 493.1,188.0 493.7,186.7 494.3,185.6 494.9,184.8 495.5,184.0 496.2,183.5 496.8,183.0 497.4,182.6 498.0,182.4 498.6,182.3 499.3,182.4 499.9,182.6 500.5,183.0 501.1,183.6 501.8,184.5 502.4,185.5 503.1,186.7 503.7,187.8 504.2,189.0 504.7,190.2 505.1,191.4 505.5,192.7 505.9,194.0 506.3,195.2 506.7,196.4 507.1,197.5 507.5,198.6 507.8,199.6 508.2,200.7 508.7,201.6 509.2,202.6 509.8,203.6 510.4,204.5 511.1,205.4 511.8,206.3 512.7,207.1 513.8,207.8 515.1,208.4 516.6,208.9 518.3,209.4 519.9,209.8 521.6,210.2 523.0,210.6 524.3,211.0 525.5,211.5 526.7,212.0 527.8,212.4 528.8,212.7 529.8,212.9 530.7,213.0 531.5,213.0 532.3,212.9 533.0,212.8 533.7,212.6 534.4,212.4 535.0,212.1 535.6,211.8 536.1,211.4 536.6,211.1 537.2,210.8 537.8,210.6 538.5,210.5 539.3,210.6 540.1,210.7 540.9,210.8 541.7,211.0 542.4,211.2 543.0,211.4 543.6,211.7 544.1,212.0 544.6,212.4 545.2,212.7 545.9,212.9 546.7,213.1 547.5,213.2 548.4,213.4 549.4,213.5 550.5,213.5 551.6,213.5 552.8,213.4 554.1,213.3 555.5,213.1 557.0,212.9 558.5,212.6 560.0,212.4 561.6,212.2 563.4,212.0 565.3,211.7 567.1,211.4 568.8,211.1 570.4,210.7 571.9,210.2 573.2,209.6 574.5,208.9 575.8,208.3 576.9,207.6 578.0,207.0 579.0,206.5 579.8,206.0 580.5,205.5 581.3,205.0 582.1,204.5 583.0,203.8 584.1,203.0 585.2,202.0 586.5,201.0 587.7,199.9 588.9,198.9 590.0,198.0 591.1,197.2 592.2,196.4 593.3,195.6 594.3,195.0 595.1,194.4 595.7,194.0" fill="none" stroke="#dc143c" stroke-width="1.6" stroke-linejoin="round" /><polyline points="322.0,272.5 322.3,272.5 322.8,272.4 323.3,272.3 323.9,272.2 324.5,272.1 325.0,272.0 325.5,271.9 326.0,271.7 326.5,271.6 327.0,271.4 327.5,271.2 328.0,271.0 328.5,270.8 328.9,270.6 329.3,270.3 329.7,270.1 330.1,269.8 330.5,269.5 330.9,269.1 331.2,268.8 331.5,268.3 331.8,267.9 332.2,267.5 332.5,267.0 332.9,266.6 333.2,266.1 333.6,265.7 334.0,265.2 334.4,264.6 334.8,264.0 335.2,263.3 335.5,262.5 335.9,261.7 336.2,260.8 336.6,259.9 337.0,259.0 337.4,258.0 337.9,257.0 338.3,255.9 338.8,254.9 339.3,253.9 339.7,253.0 340.1,252.2 340.5,251.5 340.9,250.8 341.2,250.2 341.6,249.6 342.0,249.0 342.4,248.4 342.9,247.8 343.3,247.2 343.8,246.7 344.2,246.1 344.6,245.5 345.0,244.9 345.3,244.2 345.6,243.6 345.9,242.9 346.2,242.2 346.5,241.5 346.8,240.8 347.1,240.0 347.4,239.3 347.7,238.5 348.0,237.8 348.3,237.0 348.5,236.3 348.8,235.5 349.0,234.8 349.2,234.1 349.4,233.3 349.6,232.5 349.8,231.6 350.0,230.7 350.2,229.8 350.4,228.9 350.6,227.9 350.8,227.0 351.0,226.1 351.2,225.2 351.4,224.3 351.6,223.4 351.8,222.5 352.0,221.5 352.2,220.5 352.4,219.4 352.6,218.3 352.8,217.1 353.0,216.0 353.2,214.8 353.4,213.6 353.6,212.4 353.9,211.2 354.1,210.0 354.3,208.7 354.5,207.5 354.7,206.4 354.9,205.3 355.1,204.3 355.3,203.1 355.5,201.7 355.7,200.0 355.9,197.8 356.1,195.3 356.3,192.6 356.5,189.7 356.7,186.8 356.9,184.0 357.1,181.2 357.3,178.4 357.6,175.6 357.8,172.8 358.1,169.9 358.3,167.0 358.6,164.0 358.8,160.8 359.1,157.5 359.3,154.4 359.6,151.5 359.8,149.0 360.0,147.0 360.1,145.5 360.3,144.2 360.4,142.9 360.6,141.3 360.8,139.2 361.1,136.4 361.4,133.1 361.7,129.5 362.1,125.8 362.5,122.4 362.8,119.5 363.1,117.0 363.5,114.7 363.8,112.6 364.2,110.7 364.5,109.1 364.8,107.7 365.1,106.6 365.4,105.7 365.7,105.1 366.0,104.7 366.2,104.3 366.5,104.0 366.7,103.7 366.9,103.4 367.1,103.3 367.3,103.3 367.5,103.4 367.7,103.8 368.0,104.3 368.3,104.8 368.7,105.5 369.1,106.5 369.4,107.8 369.7,109.7 369.9,112.2 370.1,115.4 370.3,118.9 370.4,122.6 370.5,126.2 370.7,129.4 370.9,132.2 371.0,134.9 371.2,137.5 371.4,140.0 371.5,142.5 371.7,145.0 371.9,147.4 372.0,149.7 372.2,152.0 372.4,154.3 372.6,156.8 372.9,159.5 373.3,162.6 373.7,166.0 374.1,169.6 374.6,173.2 375.0,176.4 375.4,179.2 375.7,181.6 376.0,183.8 376.2,185.7 376.5,187.3 376.7,188.4 377.0,189.0 377.3,188.9 377.6,188.0 377.9,186.8 378.2,185.3 378.6,184.0 379.0,183.0 379.5,182.3 380.2,181.7 380.8,181.2 381.5,180.8 382.1,180.5 382.7,180.4 383.2,180.5 383.6,180.7 383.9,181.1 384.3,181.6 384.7,182.2 385.2,183.0 385.8,184.0 386.4,185.2 387.1,186.5 387.7,187.9 388.3,189.2 388.9,190.3 389.4,191.4 389.8,192.4 390.2,193.4 390.6,194.3 391.0,194.9 391.4,195.2 391.8,195.0 392.2,194.3 392.6,193.3 393.0,192.4 393.4,191.7 393.8,191.5 394.2,191.7 394.6,192.2 395.1,193.0 395.5,193.9 395.9,195.1 396.3,196.4 396.7,198.1 397.1,200.1 397.4,202.4 397.8,204.6 398.2,206.6 398.7,208.1 399.3,208.9 399.9,209.3 400.6,209.3 401.3,209.4 402.0,209.8 402.6,210.7 403.1,212.2 403.5,214.1 403.9,216.3 404.3,218.7 404.7,221.2 405.2,223.8 405.8,226.6 406.4,229.6 407.1,232.8 407.7,236.1 408.4,239.2 409.1,242.2 409.8,245.1 410.4,247.9 411.1,250.7 411.8,253.3 412.4,255.8 413.1,257.9 413.7,259.8 414.4,261.4 415.0,262.9 415.6,264.1 416.3,265.1 417.0,265.8 417.8,266.3 418.7,266.4 419.7,266.3 420.6,266.1 421.5,265.7 422.3,265.3 423.0,264.9 423.7,264.5 424.3,263.9 425.0,263.2 425.6,262.1 426.2,260.5 426.9,258.2 427.5,255.2 428.2,251.8 428.9,248.5 429.5,245.6 430.1,243.5 430.6,242.2 431.1,241.5 431.5,241.2 431.9,241.2 432.3,241.4 432.7,241.7 433.1,242.1 433.5,242.8 434.0,243.6 434.4,244.7 434.9,245.9 435.4,247.4 436.0,249.2 436.6,251.5 437.3,253.9 438.0,256.3 438.6,258.6 439.3,260.5 439.9,262.0 440.5,263.4 441.2,264.5 441.8,265.5 442.5,266.4 443.2,267.1 444.0,267.7 444.9,268.2 445.8,268.6 446.7,268.7 447.6,268.7 448.5,268.4 449.4,267.7 450.3,266.5 451.2,265.1 452.1,263.7 452.9,262.5 453.7,261.9 454.5,261.8 455.2,262.0 455.9,262.5 456.5,263.2 457.1,263.9 457.7,264.5 458.2,265.1 458.5,265.8 458.8,266.4 459.1,267.1 459.6,267.8 460.2,268.4 461.0,269.0 462.0,269.6 463.1,270.1 464.3,270.6 465.5,270.9 466.8,271.0 468.2,270.9 469.7,270.6 471.3,270.1 472.9,269.6 474.5,269.0 476.0,268.4 477.4,267.9 478.7,267.4 480.0,266.9 481.2,266.2 482.5,265.5 483.8,264.5 485.1,263.2 486.4,261.7 487.7,260.1 489.1,258.4 490.4,256.7 491.7,255.3 493.1,254.0 494.5,252.6 495.9,251.3 497.3,250.2 498.5,249.3 499.6,248.7 500.5,248.4 501.2,248.2 501.8,248.3 502.3,248.6 502.9,249.2 503.5,250.0 504.1,251.2 504.7,252.9 505.4,254.8 506.0,256.8 506.7,258.7 507.4,260.5 508.2,262.2 509.1,263.9 510.0,265.5 510.9,267.1 511.8,268.5 512.7,269.7 513.6,270.7 514.4,271.4 515.3,272.0 516.2,272.6 517.1,273.0 518.0,273.5 518.7,274.0 519.0,274.4 519.4,274.7 520.1,275.0 521.5,275.3 524.0,275.5 528.0,275.6 533.4,275.7 539.4,275.8 545.5,275.7 550.9,275.6 555.0,275.5 557.5,275.3 559.1,275.0 559.9,274.7 560.5,274.3 561.0,273.9 562.0,273.5 563.3,273.1 564.5,272.8 565.8,272.4 567.2,272.0 568.7,271.5 570.4,271.0 572.3,270.5 574.5,270.0 576.7,269.6 579.0,268.9 581.3,268.1 583.5,267.1 585.7,265.6 588.1,263.7 590.4,261.6 592.6,259.6 594.4,257.8 595.7,256.6" fill="none" stroke="#0000ff" stroke-width="2.2" stroke-linejoin="round" stroke-dasharray="0.01 3.05" stroke-linecap="round"/></g><rect x="104.4" y="4" width="214.9" height="54.8" rx="2" fill="#fdf9f7" fill-opacity="0.93"/><rect x="404.8" y="4" width="187.7" height="54.8" rx="2" fill="#fdf9f7" fill-opacity="0.93"/><line x1="106" y1="13.6" x2="118" y2="13.6" stroke="#ffa500" stroke-width="3"/><line x1="106" y1="31.5" x2="118" y2="31.5" stroke="#dc143c" stroke-width="2"/><line x1="107.5" y1="49.3" x2="116" y2="49.3" stroke="#1f8a1f" stroke-width="2.2"/><text x="126.5" y="18.2" font-size="12.35">Absorbed Continuum Emission</text><text x="126.5" y="36.1" font-size="12.35">Best-fitting Model</text><text x="126.5" y="53.9" font-size="12.35">Continuum Emission</text><circle cx="409.2" cy="13.7" r="1.05" fill="#0000ff"/><circle cx="414.7" cy="13.7" r="1.05" fill="#0000ff"/><line x1="406.5" y1="31.4" x2="418.3" y2="31.4" stroke="#9400d3" stroke-width="2"/><line x1="406.5" y1="49.1" x2="418.3" y2="49.1" stroke="#ff1493" stroke-width="2"/><text x="426.5" y="18.2" font-size="12.35">Unabsorbed Emission Line</text><text x="426.5" y="36.1" font-size="12.35">SiIV</text><text x="426.5" y="53.9" font-size="12.35">CIV</text><rect x="46.3" y="2.0" width="274.3" height="272.8" fill="none" stroke="#000" stroke-width="2"/><line x1="82.4" y1="274.8" x2="82.4" y2="270.3" stroke="#000" stroke-width="1.6"/><line x1="82.4" y1="2.0" x2="82.4" y2="6.5" stroke="#000" stroke-width="1.6"/><text x="82.4" y="287.3" font-size="12.3" text-anchor="middle">1200</text><line x1="154.6" y1="274.8" x2="154.6" y2="270.3" stroke="#000" stroke-width="1.6"/><line x1="154.6" y1="2.0" x2="154.6" y2="6.5" stroke="#000" stroke-width="1.6"/><text x="154.6" y="287.3" font-size="12.3" text-anchor="middle">1300</text><line x1="226.8" y1="274.8" x2="226.8" y2="270.3" stroke="#000" stroke-width="1.6"/><line x1="226.8" y1="2.0" x2="226.8" y2="6.5" stroke="#000" stroke-width="1.6"/><text x="226.8" y="287.3" font-size="12.3" text-anchor="middle">1400</text><line x1="298.9" y1="274.8" x2="298.9" y2="270.3" stroke="#000" stroke-width="1.6"/><line x1="298.9" y1="2.0" x2="298.9" y2="6.5" stroke="#000" stroke-width="1.6"/><text x="298.9" y="287.3" font-size="12.3" text-anchor="middle">1500</text><line x1="46.3" y1="274.8" x2="50.8" y2="274.8" stroke="#000" stroke-width="1.6"/><line x1="320.6" y1="274.8" x2="316.1" y2="274.8" stroke="#000" stroke-width="1.6"/><text x="44.2" y="279.7" font-size="12.9" text-anchor="end">0</text><line x1="46.3" y1="242.7" x2="50.8" y2="242.7" stroke="#000" stroke-width="1.6"/><line x1="320.6" y1="242.7" x2="316.1" y2="242.7" stroke="#000" stroke-width="1.6"/><text x="44.2" y="247.6" font-size="12.9" text-anchor="end">20</text><line x1="46.3" y1="210.5" x2="50.8" y2="210.5" stroke="#000" stroke-width="1.6"/><line x1="320.6" y1="210.5" x2="316.1" y2="210.5" stroke="#000" stroke-width="1.6"/><text x="44.2" y="215.4" font-size="12.9" text-anchor="end">40</text><line x1="46.3" y1="178.4" x2="50.8" y2="178.4" stroke="#000" stroke-width="1.6"/><line x1="320.6" y1="178.4" x2="316.1" y2="178.4" stroke="#000" stroke-width="1.6"/><text x="44.2" y="183.3" font-size="12.9" text-anchor="end">60</text><line x1="46.3" y1="146.2" x2="50.8" y2="146.2" stroke="#000" stroke-width="1.6"/><line x1="320.6" y1="146.2" x2="316.1" y2="146.2" stroke="#000" stroke-width="1.6"/><text x="44.2" y="151.2" font-size="12.9" text-anchor="end">80</text><line x1="46.3" y1="114.1" x2="50.8" y2="114.1" stroke="#000" stroke-width="1.6"/><line x1="320.6" y1="114.1" x2="316.1" y2="114.1" stroke="#000" stroke-width="1.6"/><text x="44.2" y="119.0" font-size="12.9" text-anchor="end">100</text><line x1="46.3" y1="82.0" x2="50.8" y2="82.0" stroke="#000" stroke-width="1.6"/><line x1="320.6" y1="82.0" x2="316.1" y2="82.0" stroke="#000" stroke-width="1.6"/><text x="44.2" y="86.9" font-size="12.9" text-anchor="end">120</text><line x1="46.3" y1="49.8" x2="50.8" y2="49.8" stroke="#000" stroke-width="1.6"/><line x1="320.6" y1="49.8" x2="316.1" y2="49.8" stroke="#000" stroke-width="1.6"/><text x="44.2" y="54.7" font-size="12.9" text-anchor="end">140</text><line x1="46.3" y1="17.7" x2="50.8" y2="17.7" stroke="#000" stroke-width="1.6"/><line x1="320.6" y1="17.7" x2="316.1" y2="17.7" stroke="#000" stroke-width="1.6"/><text x="44.2" y="22.6" font-size="12.9" text-anchor="end">160</text><text x="109.8" y="300" font-size="14.1" textLength="147.5" lengthAdjust="spacingAndGlyphs">Rest Wavelength (Å)</text><rect x="320.9" y="2.0" width="274.80000000000007" height="272.8" fill="none" stroke="#000" stroke-width="2"/><line x1="357.1" y1="274.8" x2="357.1" y2="270.3" stroke="#000" stroke-width="1.6"/><line x1="357.1" y1="2.0" x2="357.1" y2="6.5" stroke="#000" stroke-width="1.6"/><text x="357.1" y="287.3" font-size="12.3" text-anchor="middle">1200</text><line x1="429.4" y1="274.8" x2="429.4" y2="270.3" stroke="#000" stroke-width="1.6"/><line x1="429.4" y1="2.0" x2="429.4" y2="6.5" stroke="#000" stroke-width="1.6"/><text x="429.4" y="287.3" font-size="12.3" text-anchor="middle">1300</text><line x1="501.7" y1="274.8" x2="501.7" y2="270.3" stroke="#000" stroke-width="1.6"/><line x1="501.7" y1="2.0" x2="501.7" y2="6.5" stroke="#000" stroke-width="1.6"/><text x="501.7" y="287.3" font-size="12.3" text-anchor="middle">1400</text><line x1="574.0" y1="274.8" x2="574.0" y2="270.3" stroke="#000" stroke-width="1.6"/><line x1="574.0" y1="2.0" x2="574.0" y2="6.5" stroke="#000" stroke-width="1.6"/><text x="574.0" y="287.3" font-size="12.3" text-anchor="middle">1500</text><line x1="320.9" y1="274.8" x2="325.4" y2="274.8" stroke="#000" stroke-width="1.6"/><line x1="595.7" y1="274.8" x2="591.2" y2="274.8" stroke="#000" stroke-width="1.6"/><line x1="320.9" y1="242.7" x2="325.4" y2="242.7" stroke="#000" stroke-width="1.6"/><line x1="595.7" y1="242.7" x2="591.2" y2="242.7" stroke="#000" stroke-width="1.6"/><line x1="320.9" y1="210.5" x2="325.4" y2="210.5" stroke="#000" stroke-width="1.6"/><line x1="595.7" y1="210.5" x2="591.2" y2="210.5" stroke="#000" stroke-width="1.6"/><line x1="320.9" y1="178.4" x2="325.4" y2="178.4" stroke="#000" stroke-width="1.6"/><line x1="595.7" y1="178.4" x2="591.2" y2="178.4" stroke="#000" stroke-width="1.6"/><line x1="320.9" y1="146.2" x2="325.4" y2="146.2" stroke="#000" stroke-width="1.6"/><line x1="595.7" y1="146.2" x2="591.2" y2="146.2" stroke="#000" stroke-width="1.6"/><line x1="320.9" y1="114.1" x2="325.4" y2="114.1" stroke="#000" stroke-width="1.6"/><line x1="595.7" y1="114.1" x2="591.2" y2="114.1" stroke="#000" stroke-width="1.6"/><line x1="320.9" y1="82.0" x2="325.4" y2="82.0" stroke="#000" stroke-width="1.6"/><line x1="595.7" y1="82.0" x2="591.2" y2="82.0" stroke="#000" stroke-width="1.6"/><line x1="320.9" y1="49.8" x2="325.4" y2="49.8" stroke="#000" stroke-width="1.6"/><line x1="595.7" y1="49.8" x2="591.2" y2="49.8" stroke="#000" stroke-width="1.6"/><line x1="320.9" y1="17.7" x2="325.4" y2="17.7" stroke="#000" stroke-width="1.6"/><line x1="595.7" y1="17.7" x2="591.2" y2="17.7" stroke="#000" stroke-width="1.6"/><text x="384.6" y="300" font-size="14.1" textLength="147.5" lengthAdjust="spacingAndGlyphs">Rest Wavelength (Å)</text><text x="52.8" y="22" font-size="15.3">DR5</text><text x="326.6" y="22.2" font-size="15.3">DR9</text><text transform="translate(13.6,138.6) rotate(-90) scale(1.023,1)" font-size="14.1" text-anchor="middle">Flux (10<tspan dy="-5" font-size="9.8">−17</tspan><tspan dy="5"> erg s</tspan><tspan dy="-5" font-size="9.8">−1</tspan><tspan dy="5"> cm</tspan><tspan dy="-5" font-size="9.8">−2</tspan><tspan dy="5"> Å</tspan><tspan dy="-5" font-size="9.8">−1</tspan><tspan dy="5">)</tspan></text>
</svg></body></html>
